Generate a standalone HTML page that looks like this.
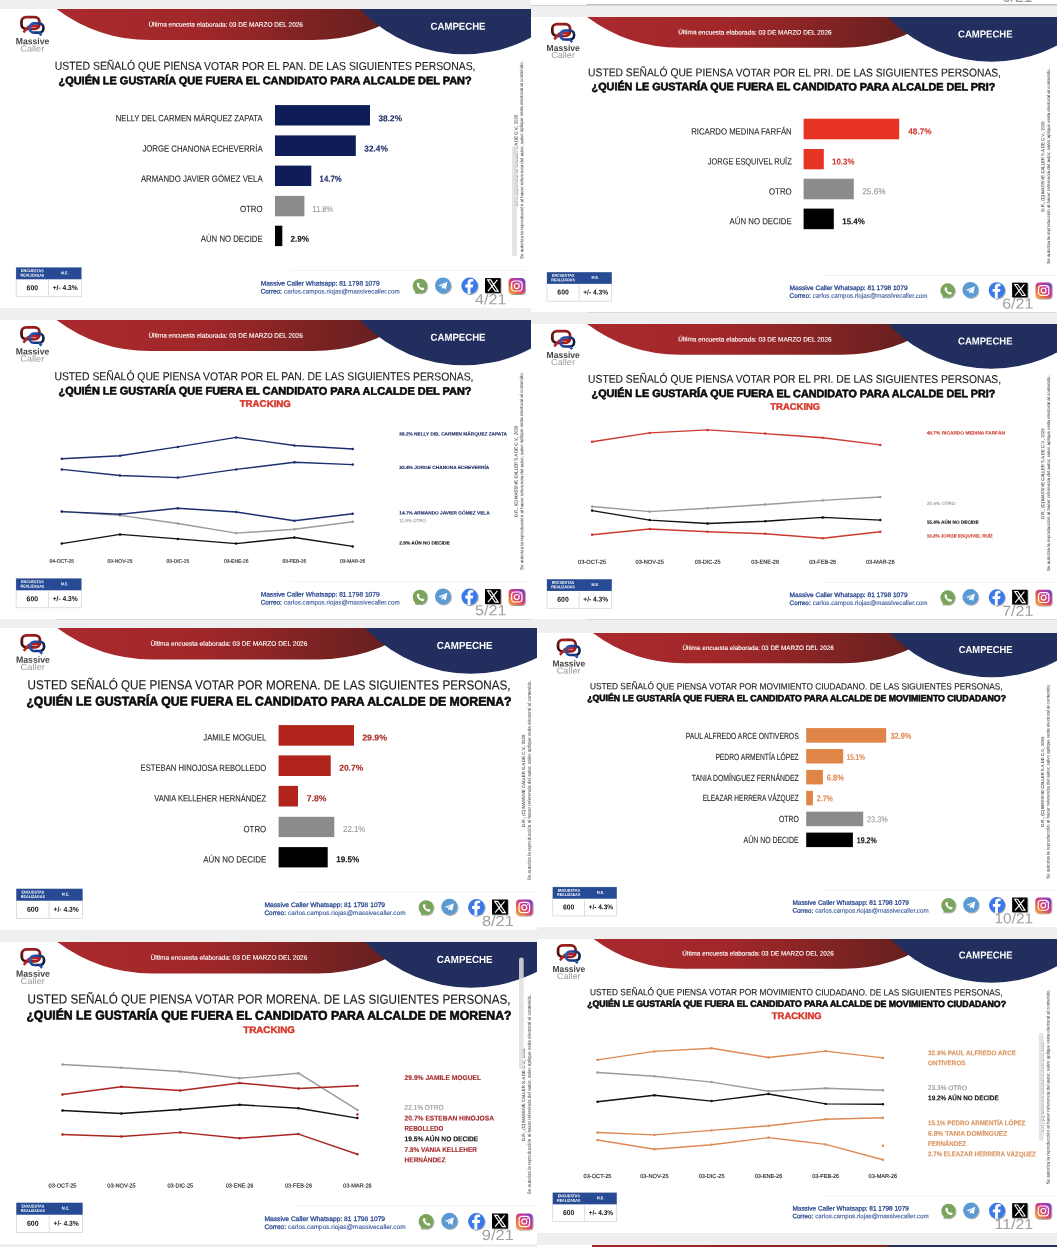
<!DOCTYPE html>
<html lang="es"><head><meta charset="utf-8"><title>Massive Caller - Campeche</title>
<style>
html,body{margin:0;padding:0;}
body{width:1057px;height:1247px;position:relative;overflow:hidden;background:#efefef;font-family:"Liberation Sans",sans-serif;}
svg.p{position:absolute;background:#fff;overflow:hidden;display:block;will-change:transform;}
svg text{font-family:"Liberation Sans",sans-serif;white-space:pre;}
.x{position:absolute;}
.t{position:absolute;white-space:nowrap;line-height:1;}
</style></head><body>
<svg width="0" height="0" style="position:absolute"><defs>
<linearGradient id="rg" x1="0" y1="0" x2="1" y2="0"><stop offset="0" stop-color="#aa2a2e"/><stop offset="0.4" stop-color="#a02729"/><stop offset="0.58" stop-color="#8f2526"/><stop offset="0.75" stop-color="#7a2222"/><stop offset="0.9" stop-color="#682020"/><stop offset="1" stop-color="#5f1e1e"/></linearGradient>
<linearGradient id="ig" x1="0" y1="1" x2="1" y2="0"><stop offset="0" stop-color="#f7b34a"/><stop offset="0.3" stop-color="#e8653c"/><stop offset="0.6" stop-color="#c8379a"/><stop offset="1" stop-color="#6a46c8"/></linearGradient>
<linearGradient id="lr" gradientUnits="userSpaceOnUse" x1="21" y1="21" x2="40" y2="8"><stop offset="0" stop-color="#141010"/><stop offset="0.22" stop-color="#5e1313"/><stop offset="0.55" stop-color="#a32121"/><stop offset="1" stop-color="#7d1818"/></linearGradient>
<linearGradient id="lb" gradientUnits="userSpaceOnUse" x1="29" y1="15" x2="45" y2="23"><stop offset="0" stop-color="#2a5cc0"/><stop offset="0.5" stop-color="#1d3a8a"/><stop offset="0.85" stop-color="#0f1836"/><stop offset="1" stop-color="#141414"/></linearGradient>
<filter id="sh" x="-30%" y="-30%" width="170%" height="170%"><feDropShadow dx="0.7" dy="0.9" stdDeviation="0.75" flood-color="#000" flood-opacity="0.42"/></filter>
</defs></svg>
<svg class="p" id="p1" style="left:0px;top:9.4px;" width="531.00" height="298.50" viewBox="0 0.000 531.000 298.500" preserveAspectRatio="none">
<path d="M56.5,0 A156.5,156.5 0 0 0 150,31.1 L313,31.1 A165,165 0 0 0 409.3,0 Z" fill="url(#rg)"/>
<circle cx="464" cy="-96.7" r="142" fill="#212e5e"/>
<g transform="translate(0,0.8)"><rect x="21.5" y="7.3" width="17.9" height="11.8" rx="4.6" fill="none" stroke="url(#lr)" stroke-width="2.8"/><path d="M23.4,22.6 L28.4,16.9 Q33,15.4 38.6,16.2" fill="none" stroke="#b52424" stroke-width="2.5" stroke-linejoin="round"/><rect x="29.7" y="13.6" width="13.7" height="9.2" rx="4.1" fill="none" stroke="url(#lb)" stroke-width="2.6"/><path d="M38.8,22.6 L41.5,25.6" fill="none" stroke="#1f4fb0" stroke-width="2.4"/></g>
<g transform="translate(420,277.0)" filter="url(#sh)"><circle r="7.3" fill="#7aa45b"/><path d="M-5.2,7.6 L-4.2,3.5 L-1,6 Z" fill="#7aa45b"/><path transform="scale(0.86)" d="M-3.1,-3.6 q1.2,-1 1.9,0.2 l0.7,1.5 q0.2,0.6 -0.6,1.2 q0.9,2 2.9,2.9 q0.7,-0.9 1.2,-0.6 l1.5,0.8 q1.1,0.7 0.1,1.8 q-1.6,1.4 -4.5,-0.4 q-2.4,-1.6 -3.6,-4.4 q-0.6,-1.9 0.4,-3 z" fill="#fff"/></g>
<g transform="translate(443,276.4)" filter="url(#sh)"><circle r="8" fill="#5a9bd4"/><path d="M-4.6,0.2 L4.4,-3.6 L2.8,4 L0.2,2.2 L-1.2,3.6 L-1.4,1.2 L2.6,-2.2 L-2.4,0.8 Z" fill="#fff"/></g>
<g transform="translate(469.6,276.8)" filter="url(#sh)"><circle r="8.2" fill="#3b79e8"/><path d="M0.9,8.2 V1.6 H3.2 L3.6,-1.2 H0.9 V-2.8 Q0.9,-4.2 2.4,-4.2 H3.7 V-6.6 Q2.7,-6.8 1.5,-6.8 Q-2,-6.8 -2,-3.2 V-1.2 H-4.3 V1.6 H-2 V8.2 Z" fill="#fff"/></g>
<g transform="translate(492.8,276.5)" filter="url(#sh)"><rect x="-7.8" y="-7.4" width="15.6" height="14.8" fill="#000"/><path d="M-5.2,-5.6 H-2.2 L5.4,5.6 H2.4 Z M4.6,-5.6 L-4.8,5.6" fill="none" stroke="#fff" stroke-width="1.1"/></g>
<g transform="translate(516.8,277.0)" filter="url(#sh)"><rect x="-8.2" y="-8" width="16.4" height="16" rx="3.8" fill="url(#ig)"/><rect x="-5.2" y="-5" width="10.4" height="10" rx="2.8" fill="none" stroke="#fff" stroke-width="1.2"/><circle r="2.5" fill="none" stroke="#fff" stroke-width="1.2"/><circle cx="3.2" cy="-3.1" r="0.7" fill="#fff"/></g>
<text x="148.40" y="17.60" font-size="6.40" fill="#fff" textLength="154.60" lengthAdjust="spacingAndGlyphs" stroke="#fff" stroke-width="0.12" transform="rotate(0.035 148.40 17.60)">Última encuesta elaborada: 03 DE MARZO DEL 2026</text>
<text x="430.50" y="20.81" font-size="10.20" fill="#fff" font-weight="700" textLength="55.00" lengthAdjust="spacingAndGlyphs" transform="rotate(0.035 430.50 20.81)">CAMPECHE</text>
<text x="32.50" y="35.20" font-size="9.00" fill="#444" font-weight="700" text-anchor="middle" textLength="33.50" lengthAdjust="spacingAndGlyphs" transform="rotate(0.035 32.50 35.20)">Massive</text>
<text x="32.30" y="42.43" font-size="8.80" fill="#9a9a9a" text-anchor="middle" textLength="24.00" lengthAdjust="spacingAndGlyphs" transform="rotate(0.035 32.30 42.43)">Caller</text>
<rect x="16.10" y="258.50" width="65.30" height="29.30" fill="#fff" stroke="#c9c9c9" stroke-width="0.6"/>
<rect x="16.10" y="258.50" width="65.30" height="11.80" fill="#264a94" />
<rect x="48.10" y="270.30" width="0.60" height="17.50" fill="#c9c9c9" />
<text x="32.40" y="263.14" font-size="3.90" fill="#fff" font-weight="700" text-anchor="middle" textLength="22.60" lengthAdjust="spacingAndGlyphs" transform="rotate(0.035 32.40 263.14)">ENCUESTAS</text>
<text x="32.40" y="267.64" font-size="3.90" fill="#fff" font-weight="700" text-anchor="middle" textLength="23.80" lengthAdjust="spacingAndGlyphs" transform="rotate(0.035 32.40 267.64)">REALIZADAS</text>
<text x="64.70" y="265.24" font-size="3.90" fill="#fff" font-weight="700" text-anchor="middle" textLength="7.40" lengthAdjust="spacingAndGlyphs" transform="rotate(0.035 64.70 265.24)">M.E.</text>
<text x="32.30" y="281.18" font-size="7.20" fill="#111" font-weight="700" text-anchor="middle" textLength="11.50" lengthAdjust="spacingAndGlyphs" transform="rotate(0.035 32.30 281.18)">600</text>
<text x="65.20" y="281.11" font-size="7.00" fill="#111" font-weight="700" text-anchor="middle" textLength="25.00" lengthAdjust="spacingAndGlyphs" transform="rotate(0.035 65.20 281.11)">+/- 4.3%</text>
<rect x="292.00" y="261.30" width="239.00" height="0.60" fill="#ececec" />
<text x="260.70" y="276.44" font-size="6.50" fill="#2c4a90" textLength="118.90" lengthAdjust="spacingAndGlyphs" stroke="#2c4a90" stroke-width="0.28" transform="rotate(0.035 260.70 276.44)">Massive Caller Whatsapp: 81 1798 1079</text>
<text x="260.70" y="284.44" font-size="6.50" fill="#2c4a90" textLength="21.20" lengthAdjust="spacingAndGlyphs" stroke="#2c4a90" stroke-width="0.28" transform="rotate(0.035 260.70 284.44)">Correo:</text>
<text x="284.00" y="284.44" font-size="6.50" fill="#33539a" textLength="115.70" lengthAdjust="spacingAndGlyphs" stroke="#33539a" stroke-width="0.1" transform="rotate(0.035 284.00 284.44)">carlos.campos.riojas@massivecaller.com</text>
<text x="506.50" y="295.32" font-size="14.60" fill="#a0a0a0" text-anchor="end" textLength="31.50" lengthAdjust="spacingAndGlyphs" transform="rotate(0.035 506.50 295.32)">4/21</text>
<text x="517.50" y="197.10" font-size="4.40" fill="#555" textLength="91.40" lengthAdjust="spacingAndGlyphs" stroke="#555" stroke-width="0.08" transform="rotate(-90.035 517.50 197.10)">D.R., (C) MASSIVE CALLER S.A DE C.V., 2026</text>
<text x="523.20" y="250.00" font-size="4.40" fill="#555" textLength="198.00" lengthAdjust="spacingAndGlyphs" stroke="#555" stroke-width="0.08" transform="rotate(-90.035 523.20 250.00)">Se autoriza la reproducción al hacer referencia del autor, salvo aplique veda electoral al contenido.</text>
<text x="54.80" y="60.81" font-size="11.50" fill="#1a1a1a" textLength="420.70" lengthAdjust="spacingAndGlyphs" stroke="#1a1a1a" stroke-width="0.12" transform="rotate(0.035 54.80 60.81)">USTED SEÑALÓ QUE PIENSA VOTAR POR EL PAN. DE LAS SIGUIENTES PERSONAS,</text>
<text x="58.50" y="75.13" font-size="11.00" fill="#0a0a0a" font-weight="700" textLength="413.20" lengthAdjust="spacingAndGlyphs" stroke="#0a0a0a" stroke-width="0.6" transform="rotate(0.035 58.50 75.13)">¿QUIÉN LE GUSTARÍA QUE FUERA EL CANDIDATO PARA ALCALDE DEL PAN?</text>
<rect x="275.00" y="96.10" width="95.00" height="20.40" fill="#0e1d57" />
<text x="262.60" y="112.30" font-size="9.00" fill="#262626" text-anchor="end" textLength="146.90" lengthAdjust="spacingAndGlyphs" stroke="#262626" stroke-width="0.1" transform="rotate(0.035 262.60 112.30)">NELLY DEL CARMEN MÁRQUEZ ZAPATA</text>
<text x="378.50" y="112.16" font-size="8.60" fill="#1c2a66" font-weight="700" textLength="23.50" lengthAdjust="spacingAndGlyphs" stroke="#1c2a66" stroke-width="0.1" transform="rotate(0.035 378.50 112.16)">38.2%</text>
<rect x="275.00" y="126.40" width="80.80" height="20.60" fill="#0e1d57" />
<text x="262.60" y="142.70" font-size="9.00" fill="#262626" text-anchor="end" textLength="120.20" lengthAdjust="spacingAndGlyphs" stroke="#262626" stroke-width="0.1" transform="rotate(0.035 262.60 142.70)">JORGE CHANONA ECHEVERRÍA</text>
<text x="364.30" y="142.56" font-size="8.60" fill="#1c2a66" font-weight="700" textLength="23.50" lengthAdjust="spacingAndGlyphs" stroke="#1c2a66" stroke-width="0.1" transform="rotate(0.035 364.30 142.56)">32.4%</text>
<rect x="275.00" y="156.60" width="36.30" height="20.40" fill="#0e1d57" />
<text x="262.60" y="172.80" font-size="9.00" fill="#262626" text-anchor="end" textLength="121.70" lengthAdjust="spacingAndGlyphs" stroke="#262626" stroke-width="0.1" transform="rotate(0.035 262.60 172.80)">ARMANDO JAVIER GÓMEZ VELA</text>
<text x="319.60" y="172.66" font-size="8.60" fill="#1c2a66" font-weight="700" textLength="22.00" lengthAdjust="spacingAndGlyphs" stroke="#1c2a66" stroke-width="0.1" transform="rotate(0.035 319.60 172.66)">14.7%</text>
<rect x="275.00" y="186.90" width="29.40" height="20.40" fill="#8b8b8b" />
<text x="262.60" y="203.10" font-size="9.00" fill="#262626" text-anchor="end" textLength="22.70" lengthAdjust="spacingAndGlyphs" stroke="#262626" stroke-width="0.1" transform="rotate(0.035 262.60 203.10)">OTRO</text>
<text x="312.60" y="202.96" font-size="8.60" fill="#9a9a9a" textLength="20.50" lengthAdjust="spacingAndGlyphs" stroke="#9a9a9a" stroke-width="0.12" transform="rotate(0.035 312.60 202.96)">11.8%</text>
<rect x="275.00" y="216.70" width="7.30" height="20.40" fill="#000" />
<text x="262.60" y="232.90" font-size="9.00" fill="#262626" text-anchor="end" textLength="61.80" lengthAdjust="spacingAndGlyphs" stroke="#262626" stroke-width="0.1" transform="rotate(0.035 262.60 232.90)">AÚN NO DECIDE</text>
<text x="290.60" y="232.76" font-size="8.60" fill="#111" font-weight="700" textLength="18.50" lengthAdjust="spacingAndGlyphs" stroke="#111" stroke-width="0.1" transform="rotate(0.035 290.60 232.76)">2.9%</text>
<rect x="512.00" y="136.50" width="5.00" height="110.70" rx="2.50" fill="rgba(224,224,224,0.86)"/>
</svg>
<svg class="p" id="p2" style="left:531px;top:16.9px;" width="526.00" height="295.00" viewBox="0 0.000 530.242 298.795" preserveAspectRatio="none">
<path d="M56.5,0 A156.5,156.5 0 0 0 150,31.1 L313,31.1 A165,165 0 0 0 409.3,0 Z" fill="url(#rg)"/>
<circle cx="464" cy="-96.7" r="142" fill="#212e5e"/>
<g transform="translate(0,0)"><rect x="21.5" y="7.3" width="17.9" height="11.8" rx="4.6" fill="none" stroke="url(#lr)" stroke-width="2.8"/><path d="M23.4,22.6 L28.4,16.9 Q33,15.4 38.6,16.2" fill="none" stroke="#b52424" stroke-width="2.5" stroke-linejoin="round"/><rect x="29.7" y="13.6" width="13.7" height="9.2" rx="4.1" fill="none" stroke="url(#lb)" stroke-width="2.6"/><path d="M38.8,22.6 L41.5,25.6" fill="none" stroke="#1f4fb0" stroke-width="2.4"/></g>
<g transform="translate(420,277.0)" filter="url(#sh)"><circle r="7.3" fill="#7aa45b"/><path d="M-5.2,7.6 L-4.2,3.5 L-1,6 Z" fill="#7aa45b"/><path transform="scale(0.86)" d="M-3.1,-3.6 q1.2,-1 1.9,0.2 l0.7,1.5 q0.2,0.6 -0.6,1.2 q0.9,2 2.9,2.9 q0.7,-0.9 1.2,-0.6 l1.5,0.8 q1.1,0.7 0.1,1.8 q-1.6,1.4 -4.5,-0.4 q-2.4,-1.6 -3.6,-4.4 q-0.6,-1.9 0.4,-3 z" fill="#fff"/></g>
<g transform="translate(443,276.4)" filter="url(#sh)"><circle r="8" fill="#5a9bd4"/><path d="M-4.6,0.2 L4.4,-3.6 L2.8,4 L0.2,2.2 L-1.2,3.6 L-1.4,1.2 L2.6,-2.2 L-2.4,0.8 Z" fill="#fff"/></g>
<g transform="translate(469.6,276.8)" filter="url(#sh)"><circle r="8.2" fill="#3b79e8"/><path d="M0.9,8.2 V1.6 H3.2 L3.6,-1.2 H0.9 V-2.8 Q0.9,-4.2 2.4,-4.2 H3.7 V-6.6 Q2.7,-6.8 1.5,-6.8 Q-2,-6.8 -2,-3.2 V-1.2 H-4.3 V1.6 H-2 V8.2 Z" fill="#fff"/></g>
<g transform="translate(492.8,276.5)" filter="url(#sh)"><rect x="-7.8" y="-7.4" width="15.6" height="14.8" fill="#000"/><path d="M-5.2,-5.6 H-2.2 L5.4,5.6 H2.4 Z M4.6,-5.6 L-4.8,5.6" fill="none" stroke="#fff" stroke-width="1.1"/></g>
<g transform="translate(516.8,277.0)" filter="url(#sh)"><rect x="-8.2" y="-8" width="16.4" height="16" rx="3.8" fill="url(#ig)"/><rect x="-5.2" y="-5" width="10.4" height="10" rx="2.8" fill="none" stroke="#fff" stroke-width="1.2"/><circle r="2.5" fill="none" stroke="#fff" stroke-width="1.2"/><circle cx="3.2" cy="-3.1" r="0.7" fill="#fff"/></g>
<text x="148.40" y="17.60" font-size="6.40" fill="#fff" textLength="154.60" lengthAdjust="spacingAndGlyphs" stroke="#fff" stroke-width="0.12" transform="rotate(0.035 148.40 17.60)">Última encuesta elaborada: 03 DE MARZO DEL 2026</text>
<text x="430.50" y="20.81" font-size="10.20" fill="#fff" font-weight="700" textLength="55.00" lengthAdjust="spacingAndGlyphs" transform="rotate(0.035 430.50 20.81)">CAMPECHE</text>
<text x="32.50" y="34.40" font-size="9.00" fill="#444" font-weight="700" text-anchor="middle" textLength="33.50" lengthAdjust="spacingAndGlyphs" transform="rotate(0.035 32.50 34.40)">Massive</text>
<text x="32.30" y="41.63" font-size="8.80" fill="#9a9a9a" text-anchor="middle" textLength="24.00" lengthAdjust="spacingAndGlyphs" transform="rotate(0.035 32.30 41.63)">Caller</text>
<rect x="16.10" y="258.50" width="65.30" height="29.30" fill="#fff" stroke="#c9c9c9" stroke-width="0.6"/>
<rect x="16.10" y="258.50" width="65.30" height="11.80" fill="#264a94" />
<rect x="48.10" y="270.30" width="0.60" height="17.50" fill="#c9c9c9" />
<text x="32.40" y="263.14" font-size="3.90" fill="#fff" font-weight="700" text-anchor="middle" textLength="22.60" lengthAdjust="spacingAndGlyphs" transform="rotate(0.035 32.40 263.14)">ENCUESTAS</text>
<text x="32.40" y="267.64" font-size="3.90" fill="#fff" font-weight="700" text-anchor="middle" textLength="23.80" lengthAdjust="spacingAndGlyphs" transform="rotate(0.035 32.40 267.64)">REALIZADAS</text>
<text x="64.70" y="265.24" font-size="3.90" fill="#fff" font-weight="700" text-anchor="middle" textLength="7.40" lengthAdjust="spacingAndGlyphs" transform="rotate(0.035 64.70 265.24)">M.E.</text>
<text x="32.30" y="281.18" font-size="7.20" fill="#111" font-weight="700" text-anchor="middle" textLength="11.50" lengthAdjust="spacingAndGlyphs" transform="rotate(0.035 32.30 281.18)">600</text>
<text x="65.20" y="281.11" font-size="7.00" fill="#111" font-weight="700" text-anchor="middle" textLength="25.00" lengthAdjust="spacingAndGlyphs" transform="rotate(0.035 65.20 281.11)">+/- 4.3%</text>
<rect x="292.00" y="261.30" width="239.00" height="0.60" fill="#ececec" />
<text x="260.70" y="276.44" font-size="6.50" fill="#2c4a90" textLength="118.90" lengthAdjust="spacingAndGlyphs" stroke="#2c4a90" stroke-width="0.28" transform="rotate(0.035 260.70 276.44)">Massive Caller Whatsapp: 81 1798 1079</text>
<text x="260.70" y="284.44" font-size="6.50" fill="#2c4a90" textLength="21.20" lengthAdjust="spacingAndGlyphs" stroke="#2c4a90" stroke-width="0.28" transform="rotate(0.035 260.70 284.44)">Correo:</text>
<text x="284.00" y="284.44" font-size="6.50" fill="#33539a" textLength="115.70" lengthAdjust="spacingAndGlyphs" stroke="#33539a" stroke-width="0.1" transform="rotate(0.035 284.00 284.44)">carlos.campos.riojas@massivecaller.com</text>
<text x="506.50" y="295.32" font-size="14.60" fill="#a0a0a0" text-anchor="end" textLength="31.50" lengthAdjust="spacingAndGlyphs" transform="rotate(0.035 506.50 295.32)">6/21</text>
<text x="517.50" y="197.10" font-size="4.40" fill="#555" textLength="91.40" lengthAdjust="spacingAndGlyphs" stroke="#555" stroke-width="0.08" transform="rotate(-90.035 517.50 197.10)">D.R., (C) MASSIVE CALLER S.A DE C.V., 2026</text>
<text x="523.20" y="250.00" font-size="4.40" fill="#555" textLength="198.00" lengthAdjust="spacingAndGlyphs" stroke="#555" stroke-width="0.08" transform="rotate(-90.035 523.20 250.00)">Se autoriza la reproducción al hacer referencia del autor, salvo aplique veda electoral al contenido.</text>
<text x="57.56" y="60.07" font-size="11.50" fill="#1a1a1a" textLength="416.23" lengthAdjust="spacingAndGlyphs" stroke="#1a1a1a" stroke-width="0.12" transform="rotate(0.035 57.56 60.07)">USTED SEÑALÓ QUE PIENSA VOTAR POR EL PRI. DE LAS SIGUIENTES PERSONAS,</text>
<text x="61.09" y="74.18" font-size="11.00" fill="#0a0a0a" font-weight="700" textLength="407.06" lengthAdjust="spacingAndGlyphs" stroke="#0a0a0a" stroke-width="0.6" transform="rotate(0.035 61.09 74.18)">¿QUIÉN LE GUSTARÍA QUE FUERA EL CANDIDATO PARA ALCALDE DEL PRI?</text>
<rect x="274.80" y="103.01" width="96.37" height="20.86" fill="#e63324" />
<text x="262.80" y="118.97" font-size="9.00" fill="#262626" text-anchor="end" textLength="101.31" lengthAdjust="spacingAndGlyphs" stroke="#262626" stroke-width="0.1" transform="rotate(0.035 262.80 118.97)">RICARDO MEDINA FARFÁN</text>
<text x="380.34" y="118.83" font-size="8.60" fill="#cf3a2e" font-weight="700" textLength="23.49" lengthAdjust="spacingAndGlyphs" stroke="#cf3a2e" stroke-width="0.1" transform="rotate(0.035 380.34 118.83)">48.7%</text>
<rect x="274.80" y="133.70" width="20.36" height="20.56" fill="#e63324" />
<text x="262.80" y="149.51" font-size="9.00" fill="#262626" text-anchor="end" textLength="84.58" lengthAdjust="spacingAndGlyphs" stroke="#262626" stroke-width="0.1" transform="rotate(0.035 262.80 149.51)">JORGE ESQUIVEL RUÍZ</text>
<text x="303.43" y="149.37" font-size="8.60" fill="#cf3a2e" font-weight="700" textLength="22.68" lengthAdjust="spacingAndGlyphs" stroke="#cf3a2e" stroke-width="0.1" transform="rotate(0.035 303.43 149.37)">10.3%</text>
<rect x="274.80" y="163.78" width="50.60" height="20.86" fill="#8b8b8b" />
<text x="262.80" y="179.74" font-size="9.00" fill="#262626" text-anchor="end" textLength="22.88" lengthAdjust="spacingAndGlyphs" stroke="#262626" stroke-width="0.1" transform="rotate(0.035 262.80 179.74)">OTRO</text>
<text x="333.87" y="179.60" font-size="8.60" fill="#9a9a9a" textLength="23.69" lengthAdjust="spacingAndGlyphs" stroke="#9a9a9a" stroke-width="0.12" transform="rotate(0.035 333.87 179.60)">25.6%</text>
<rect x="274.80" y="194.06" width="30.44" height="20.86" fill="#000" />
<text x="262.80" y="210.02" font-size="9.00" fill="#262626" text-anchor="end" textLength="62.60" lengthAdjust="spacingAndGlyphs" stroke="#262626" stroke-width="0.1" transform="rotate(0.035 262.80 210.02)">AÚN NO DECIDE</text>
<text x="313.81" y="209.89" font-size="8.60" fill="#111" font-weight="700" textLength="22.68" lengthAdjust="spacingAndGlyphs" stroke="#111" stroke-width="0.1" transform="rotate(0.035 313.81 209.89)">15.4%</text>
</svg>
<svg class="p" id="p3" style="left:0px;top:320.0px;" width="531.00" height="298.50" viewBox="0 0.000 531.000 298.500" preserveAspectRatio="none">
<path d="M56.5,0 A156.5,156.5 0 0 0 150,31.1 L313,31.1 A165,165 0 0 0 409.3,0 Z" fill="url(#rg)"/>
<circle cx="464" cy="-96.7" r="142" fill="#212e5e"/>
<g transform="translate(0,0)"><rect x="21.5" y="7.3" width="17.9" height="11.8" rx="4.6" fill="none" stroke="url(#lr)" stroke-width="2.8"/><path d="M23.4,22.6 L28.4,16.9 Q33,15.4 38.6,16.2" fill="none" stroke="#b52424" stroke-width="2.5" stroke-linejoin="round"/><rect x="29.7" y="13.6" width="13.7" height="9.2" rx="4.1" fill="none" stroke="url(#lb)" stroke-width="2.6"/><path d="M38.8,22.6 L41.5,25.6" fill="none" stroke="#1f4fb0" stroke-width="2.4"/></g>
<g transform="translate(420,277.0)" filter="url(#sh)"><circle r="7.3" fill="#7aa45b"/><path d="M-5.2,7.6 L-4.2,3.5 L-1,6 Z" fill="#7aa45b"/><path transform="scale(0.86)" d="M-3.1,-3.6 q1.2,-1 1.9,0.2 l0.7,1.5 q0.2,0.6 -0.6,1.2 q0.9,2 2.9,2.9 q0.7,-0.9 1.2,-0.6 l1.5,0.8 q1.1,0.7 0.1,1.8 q-1.6,1.4 -4.5,-0.4 q-2.4,-1.6 -3.6,-4.4 q-0.6,-1.9 0.4,-3 z" fill="#fff"/></g>
<g transform="translate(443,276.4)" filter="url(#sh)"><circle r="8" fill="#5a9bd4"/><path d="M-4.6,0.2 L4.4,-3.6 L2.8,4 L0.2,2.2 L-1.2,3.6 L-1.4,1.2 L2.6,-2.2 L-2.4,0.8 Z" fill="#fff"/></g>
<g transform="translate(469.6,276.8)" filter="url(#sh)"><circle r="8.2" fill="#3b79e8"/><path d="M0.9,8.2 V1.6 H3.2 L3.6,-1.2 H0.9 V-2.8 Q0.9,-4.2 2.4,-4.2 H3.7 V-6.6 Q2.7,-6.8 1.5,-6.8 Q-2,-6.8 -2,-3.2 V-1.2 H-4.3 V1.6 H-2 V8.2 Z" fill="#fff"/></g>
<g transform="translate(492.8,276.5)" filter="url(#sh)"><rect x="-7.8" y="-7.4" width="15.6" height="14.8" fill="#000"/><path d="M-5.2,-5.6 H-2.2 L5.4,5.6 H2.4 Z M4.6,-5.6 L-4.8,5.6" fill="none" stroke="#fff" stroke-width="1.1"/></g>
<g transform="translate(516.8,277.0)" filter="url(#sh)"><rect x="-8.2" y="-8" width="16.4" height="16" rx="3.8" fill="url(#ig)"/><rect x="-5.2" y="-5" width="10.4" height="10" rx="2.8" fill="none" stroke="#fff" stroke-width="1.2"/><circle r="2.5" fill="none" stroke="#fff" stroke-width="1.2"/><circle cx="3.2" cy="-3.1" r="0.7" fill="#fff"/></g>
<polyline points="61.80,191.60 120.00,195.40 177.90,203.50 236.20,213.10 294.40,209.30 352.70,201.80" fill="none" stroke="#9a9a9a" stroke-width="1.45" stroke-linejoin="round" stroke-linecap="round"/>
<circle cx="61.80" cy="191.60" r="1.25" fill="#9a9a9a"/>
<circle cx="120.00" cy="195.40" r="1.25" fill="#9a9a9a"/>
<circle cx="177.90" cy="203.50" r="1.25" fill="#9a9a9a"/>
<circle cx="236.20" cy="213.10" r="1.25" fill="#9a9a9a"/>
<circle cx="294.40" cy="209.30" r="1.25" fill="#9a9a9a"/>
<circle cx="352.70" cy="201.80" r="1.25" fill="#9a9a9a"/>
<polyline points="61.80,138.80 120.00,135.80 177.90,126.90 236.20,117.40 294.40,125.50 352.70,129.00" fill="none" stroke="#1a2f6e" stroke-width="1.45" stroke-linejoin="round" stroke-linecap="round"/>
<circle cx="61.80" cy="138.80" r="1.25" fill="#1a2f6e"/>
<circle cx="120.00" cy="135.80" r="1.25" fill="#1a2f6e"/>
<circle cx="177.90" cy="126.90" r="1.25" fill="#1a2f6e"/>
<circle cx="236.20" cy="117.40" r="1.25" fill="#1a2f6e"/>
<circle cx="294.40" cy="125.50" r="1.25" fill="#1a2f6e"/>
<circle cx="352.70" cy="129.00" r="1.25" fill="#1a2f6e"/>
<polyline points="61.80,149.40 120.00,155.50 177.90,157.60 236.20,149.40 294.40,142.20 352.70,144.60" fill="none" stroke="#1a2f6e" stroke-width="1.45" stroke-linejoin="round" stroke-linecap="round"/>
<circle cx="61.80" cy="149.40" r="1.25" fill="#1a2f6e"/>
<circle cx="120.00" cy="155.50" r="1.25" fill="#1a2f6e"/>
<circle cx="177.90" cy="157.60" r="1.25" fill="#1a2f6e"/>
<circle cx="236.20" cy="149.40" r="1.25" fill="#1a2f6e"/>
<circle cx="294.40" cy="142.20" r="1.25" fill="#1a2f6e"/>
<circle cx="352.70" cy="144.60" r="1.25" fill="#1a2f6e"/>
<polyline points="61.80,191.60 120.00,194.30 177.90,188.20 236.20,192.00 294.40,200.80 352.70,193.70" fill="none" stroke="#1a2f6e" stroke-width="1.45" stroke-linejoin="round" stroke-linecap="round"/>
<circle cx="61.80" cy="191.60" r="1.25" fill="#1a2f6e"/>
<circle cx="120.00" cy="194.30" r="1.25" fill="#1a2f6e"/>
<circle cx="177.90" cy="188.20" r="1.25" fill="#1a2f6e"/>
<circle cx="236.20" cy="192.00" r="1.25" fill="#1a2f6e"/>
<circle cx="294.40" cy="200.80" r="1.25" fill="#1a2f6e"/>
<circle cx="352.70" cy="193.70" r="1.25" fill="#1a2f6e"/>
<polyline points="61.80,223.60 120.00,214.40 177.90,218.90 236.20,223.60 294.40,217.50 352.70,226.40" fill="none" stroke="#111" stroke-width="1.45" stroke-linejoin="round" stroke-linecap="round"/>
<circle cx="61.80" cy="223.60" r="1.25" fill="#111"/>
<circle cx="120.00" cy="214.40" r="1.25" fill="#111"/>
<circle cx="177.90" cy="218.90" r="1.25" fill="#111"/>
<circle cx="236.20" cy="223.60" r="1.25" fill="#111"/>
<circle cx="294.40" cy="217.50" r="1.25" fill="#111"/>
<circle cx="352.70" cy="226.40" r="1.25" fill="#111"/>
<text x="148.40" y="17.60" font-size="6.40" fill="#fff" textLength="154.60" lengthAdjust="spacingAndGlyphs" stroke="#fff" stroke-width="0.12" transform="rotate(0.035 148.40 17.60)">Última encuesta elaborada: 03 DE MARZO DEL 2026</text>
<text x="430.50" y="20.81" font-size="10.20" fill="#fff" font-weight="700" textLength="55.00" lengthAdjust="spacingAndGlyphs" transform="rotate(0.035 430.50 20.81)">CAMPECHE</text>
<text x="32.50" y="34.40" font-size="9.00" fill="#444" font-weight="700" text-anchor="middle" textLength="33.50" lengthAdjust="spacingAndGlyphs" transform="rotate(0.035 32.50 34.40)">Massive</text>
<text x="32.30" y="41.63" font-size="8.80" fill="#9a9a9a" text-anchor="middle" textLength="24.00" lengthAdjust="spacingAndGlyphs" transform="rotate(0.035 32.30 41.63)">Caller</text>
<rect x="16.10" y="258.50" width="65.30" height="29.30" fill="#fff" stroke="#c9c9c9" stroke-width="0.6"/>
<rect x="16.10" y="258.50" width="65.30" height="11.80" fill="#264a94" />
<rect x="48.10" y="270.30" width="0.60" height="17.50" fill="#c9c9c9" />
<text x="32.40" y="263.14" font-size="3.90" fill="#fff" font-weight="700" text-anchor="middle" textLength="22.60" lengthAdjust="spacingAndGlyphs" transform="rotate(0.035 32.40 263.14)">ENCUESTAS</text>
<text x="32.40" y="267.64" font-size="3.90" fill="#fff" font-weight="700" text-anchor="middle" textLength="23.80" lengthAdjust="spacingAndGlyphs" transform="rotate(0.035 32.40 267.64)">REALIZADAS</text>
<text x="64.70" y="265.24" font-size="3.90" fill="#fff" font-weight="700" text-anchor="middle" textLength="7.40" lengthAdjust="spacingAndGlyphs" transform="rotate(0.035 64.70 265.24)">M.E.</text>
<text x="32.30" y="281.18" font-size="7.20" fill="#111" font-weight="700" text-anchor="middle" textLength="11.50" lengthAdjust="spacingAndGlyphs" transform="rotate(0.035 32.30 281.18)">600</text>
<text x="65.20" y="281.11" font-size="7.00" fill="#111" font-weight="700" text-anchor="middle" textLength="25.00" lengthAdjust="spacingAndGlyphs" transform="rotate(0.035 65.20 281.11)">+/- 4.3%</text>
<rect x="292.00" y="261.30" width="239.00" height="0.60" fill="#ececec" />
<text x="260.70" y="276.44" font-size="6.50" fill="#2c4a90" textLength="118.90" lengthAdjust="spacingAndGlyphs" stroke="#2c4a90" stroke-width="0.28" transform="rotate(0.035 260.70 276.44)">Massive Caller Whatsapp: 81 1798 1079</text>
<text x="260.70" y="284.44" font-size="6.50" fill="#2c4a90" textLength="21.20" lengthAdjust="spacingAndGlyphs" stroke="#2c4a90" stroke-width="0.28" transform="rotate(0.035 260.70 284.44)">Correo:</text>
<text x="284.00" y="284.44" font-size="6.50" fill="#33539a" textLength="115.70" lengthAdjust="spacingAndGlyphs" stroke="#33539a" stroke-width="0.1" transform="rotate(0.035 284.00 284.44)">carlos.campos.riojas@massivecaller.com</text>
<text x="506.50" y="295.32" font-size="14.60" fill="#a0a0a0" text-anchor="end" textLength="31.50" lengthAdjust="spacingAndGlyphs" transform="rotate(0.035 506.50 295.32)">5/21</text>
<text x="517.50" y="197.10" font-size="4.40" fill="#555" textLength="91.40" lengthAdjust="spacingAndGlyphs" stroke="#555" stroke-width="0.08" transform="rotate(-90.035 517.50 197.10)">D.R., (C) MASSIVE CALLER S.A DE C.V., 2026</text>
<text x="523.20" y="250.00" font-size="4.40" fill="#555" textLength="198.00" lengthAdjust="spacingAndGlyphs" stroke="#555" stroke-width="0.08" transform="rotate(-90.035 523.20 250.00)">Se autoriza la reproducción al hacer referencia del autor, salvo aplique veda electoral al contenido.</text>
<text x="54.40" y="60.16" font-size="11.50" fill="#1a1a1a" textLength="419.10" lengthAdjust="spacingAndGlyphs" stroke="#1a1a1a" stroke-width="0.12" transform="rotate(0.035 54.40 60.16)">USTED SEÑALÓ QUE PIENSA VOTAR POR EL PAN. DE LAS SIGUIENTES PERSONAS,</text>
<text x="58.50" y="74.48" font-size="11.00" fill="#0a0a0a" font-weight="700" textLength="413.00" lengthAdjust="spacingAndGlyphs" stroke="#0a0a0a" stroke-width="0.6" transform="rotate(0.035 58.50 74.48)">¿QUIÉN LE GUSTARÍA QUE FUERA EL CANDIDATO PARA ALCALDE DEL PAN?</text>
<text x="239.70" y="86.87" font-size="9.50" fill="#d8372b" font-weight="700" textLength="51.20" lengthAdjust="spacingAndGlyphs" stroke="#d8372b" stroke-width="0.42" transform="rotate(0.035 239.70 86.87)">TRACKING</text>
<text x="61.80" y="242.66" font-size="5.12" fill="#2b2b2b" text-anchor="middle" textLength="24.70" lengthAdjust="spacingAndGlyphs" stroke="#2b2b2b" stroke-width="0.15" transform="rotate(0.035 61.80 242.66)">04-OCT-25</text>
<text x="120.00" y="242.66" font-size="5.12" fill="#2b2b2b" text-anchor="middle" textLength="24.98" lengthAdjust="spacingAndGlyphs" stroke="#2b2b2b" stroke-width="0.15" transform="rotate(0.035 120.00 242.66)">03-NOV-25</text>
<text x="177.90" y="242.66" font-size="5.12" fill="#2b2b2b" text-anchor="middle" textLength="22.78" lengthAdjust="spacingAndGlyphs" stroke="#2b2b2b" stroke-width="0.15" transform="rotate(0.035 177.90 242.66)">03-DIC-25</text>
<text x="236.20" y="242.66" font-size="5.12" fill="#2b2b2b" text-anchor="middle" textLength="24.43" lengthAdjust="spacingAndGlyphs" stroke="#2b2b2b" stroke-width="0.15" transform="rotate(0.035 236.20 242.66)">03-ENE-26</text>
<text x="294.40" y="242.66" font-size="5.12" fill="#2b2b2b" text-anchor="middle" textLength="23.88" lengthAdjust="spacingAndGlyphs" stroke="#2b2b2b" stroke-width="0.15" transform="rotate(0.035 294.40 242.66)">03-FEB-26</text>
<text x="352.70" y="242.66" font-size="5.12" fill="#2b2b2b" text-anchor="middle" textLength="25.25" lengthAdjust="spacingAndGlyphs" stroke="#2b2b2b" stroke-width="0.15" transform="rotate(0.035 352.70 242.66)">03-MAR-26</text>
<text x="399.30" y="115.52" font-size="4.70" fill="#1c2a66" font-weight="700" textLength="107.60" lengthAdjust="spacingAndGlyphs" stroke="#1c2a66" stroke-width="0.12" transform="rotate(0.035 399.30 115.52)">38.2% NELLY DEL CARMEN MÁRQUEZ ZAPATA</text>
<text x="399.30" y="149.02" font-size="4.70" fill="#1c2a66" font-weight="700" textLength="90.00" lengthAdjust="spacingAndGlyphs" stroke="#1c2a66" stroke-width="0.12" transform="rotate(0.035 399.30 149.02)">32.4% JORGE CHANONA ECHEVERRÍA</text>
<text x="399.30" y="194.52" font-size="4.70" fill="#1c2a66" font-weight="700" textLength="90.40" lengthAdjust="spacingAndGlyphs" stroke="#1c2a66" stroke-width="0.12" transform="rotate(0.035 399.30 194.52)">14.7% ARMANDO JAVIER GÓMEZ VELA</text>
<text x="399.30" y="202.22" font-size="4.70" fill="#9a9a9a" textLength="26.70" lengthAdjust="spacingAndGlyphs" stroke="#9a9a9a" stroke-width="0.1" transform="rotate(0.035 399.30 202.22)">11.8% OTRO</text>
<text x="399.30" y="224.52" font-size="4.70" fill="#111" font-weight="700" textLength="50.40" lengthAdjust="spacingAndGlyphs" stroke="#111" stroke-width="0.12" transform="rotate(0.035 399.30 224.52)">2.9% AÚN NO DECIDE</text>
</svg>
<svg class="p" id="p4" style="left:531px;top:324.0px;" width="526.00" height="295.00" viewBox="0 0.000 530.242 298.704" preserveAspectRatio="none">
<path d="M56.5,0 A156.5,156.5 0 0 0 150,31.1 L313,31.1 A165,165 0 0 0 409.3,0 Z" fill="url(#rg)"/>
<circle cx="464" cy="-96.7" r="142" fill="#212e5e"/>
<g transform="translate(0,0)"><rect x="21.5" y="7.3" width="17.9" height="11.8" rx="4.6" fill="none" stroke="url(#lr)" stroke-width="2.8"/><path d="M23.4,22.6 L28.4,16.9 Q33,15.4 38.6,16.2" fill="none" stroke="#b52424" stroke-width="2.5" stroke-linejoin="round"/><rect x="29.7" y="13.6" width="13.7" height="9.2" rx="4.1" fill="none" stroke="url(#lb)" stroke-width="2.6"/><path d="M38.8,22.6 L41.5,25.6" fill="none" stroke="#1f4fb0" stroke-width="2.4"/></g>
<g transform="translate(420,277.0)" filter="url(#sh)"><circle r="7.3" fill="#7aa45b"/><path d="M-5.2,7.6 L-4.2,3.5 L-1,6 Z" fill="#7aa45b"/><path transform="scale(0.86)" d="M-3.1,-3.6 q1.2,-1 1.9,0.2 l0.7,1.5 q0.2,0.6 -0.6,1.2 q0.9,2 2.9,2.9 q0.7,-0.9 1.2,-0.6 l1.5,0.8 q1.1,0.7 0.1,1.8 q-1.6,1.4 -4.5,-0.4 q-2.4,-1.6 -3.6,-4.4 q-0.6,-1.9 0.4,-3 z" fill="#fff"/></g>
<g transform="translate(443,276.4)" filter="url(#sh)"><circle r="8" fill="#5a9bd4"/><path d="M-4.6,0.2 L4.4,-3.6 L2.8,4 L0.2,2.2 L-1.2,3.6 L-1.4,1.2 L2.6,-2.2 L-2.4,0.8 Z" fill="#fff"/></g>
<g transform="translate(469.6,276.8)" filter="url(#sh)"><circle r="8.2" fill="#3b79e8"/><path d="M0.9,8.2 V1.6 H3.2 L3.6,-1.2 H0.9 V-2.8 Q0.9,-4.2 2.4,-4.2 H3.7 V-6.6 Q2.7,-6.8 1.5,-6.8 Q-2,-6.8 -2,-3.2 V-1.2 H-4.3 V1.6 H-2 V8.2 Z" fill="#fff"/></g>
<g transform="translate(492.8,276.5)" filter="url(#sh)"><rect x="-7.8" y="-7.4" width="15.6" height="14.8" fill="#000"/><path d="M-5.2,-5.6 H-2.2 L5.4,5.6 H2.4 Z M4.6,-5.6 L-4.8,5.6" fill="none" stroke="#fff" stroke-width="1.1"/></g>
<g transform="translate(516.8,277.0)" filter="url(#sh)"><rect x="-8.2" y="-8" width="16.4" height="16" rx="3.8" fill="url(#ig)"/><rect x="-5.2" y="-5" width="10.4" height="10" rx="2.8" fill="none" stroke="#fff" stroke-width="1.2"/><circle r="2.5" fill="none" stroke="#fff" stroke-width="1.2"/><circle cx="3.2" cy="-3.1" r="0.7" fill="#fff"/></g>
<polyline points="61.59,119.28 119.66,110.27 178.02,107.23 236.09,110.98 294.05,115.13 352.12,122.42" fill="none" stroke="#cc3a30" stroke-width="1.45" stroke-linejoin="round" stroke-linecap="round"/>
<circle cx="61.59" cy="119.28" r="1.25" fill="#cc3a30"/>
<circle cx="119.66" cy="110.27" r="1.25" fill="#cc3a30"/>
<circle cx="178.02" cy="107.23" r="1.25" fill="#cc3a30"/>
<circle cx="236.09" cy="110.98" r="1.25" fill="#cc3a30"/>
<circle cx="294.05" cy="115.13" r="1.25" fill="#cc3a30"/>
<circle cx="352.12" cy="122.42" r="1.25" fill="#cc3a30"/>
<polyline points="61.59,184.79 119.66,189.96 178.02,186.51 236.09,182.77 294.05,178.61 352.12,175.17" fill="none" stroke="#9a9a9a" stroke-width="1.45" stroke-linejoin="round" stroke-linecap="round"/>
<circle cx="61.59" cy="184.79" r="1.25" fill="#9a9a9a"/>
<circle cx="119.66" cy="189.96" r="1.25" fill="#9a9a9a"/>
<circle cx="178.02" cy="186.51" r="1.25" fill="#9a9a9a"/>
<circle cx="236.09" cy="182.77" r="1.25" fill="#9a9a9a"/>
<circle cx="294.05" cy="178.61" r="1.25" fill="#9a9a9a"/>
<circle cx="352.12" cy="175.17" r="1.25" fill="#9a9a9a"/>
<polyline points="61.59,188.94 119.66,198.56 178.02,202.00 236.09,199.68 294.05,195.83 352.12,198.56" fill="none" stroke="#111" stroke-width="1.45" stroke-linejoin="round" stroke-linecap="round"/>
<circle cx="61.59" cy="188.94" r="1.25" fill="#111"/>
<circle cx="119.66" cy="198.56" r="1.25" fill="#111"/>
<circle cx="178.02" cy="202.00" r="1.25" fill="#111"/>
<circle cx="236.09" cy="199.68" r="1.25" fill="#111"/>
<circle cx="294.05" cy="195.83" r="1.25" fill="#111"/>
<circle cx="352.12" cy="198.56" r="1.25" fill="#111"/>
<polyline points="61.59,213.45 119.66,207.57 178.02,210.31 236.09,212.43 294.05,216.89 352.12,210.31" fill="none" stroke="#cc3a30" stroke-width="1.45" stroke-linejoin="round" stroke-linecap="round"/>
<circle cx="61.59" cy="213.45" r="1.25" fill="#cc3a30"/>
<circle cx="119.66" cy="207.57" r="1.25" fill="#cc3a30"/>
<circle cx="178.02" cy="210.31" r="1.25" fill="#cc3a30"/>
<circle cx="236.09" cy="212.43" r="1.25" fill="#cc3a30"/>
<circle cx="294.05" cy="216.89" r="1.25" fill="#cc3a30"/>
<circle cx="352.12" cy="210.31" r="1.25" fill="#cc3a30"/>
<text x="148.40" y="17.60" font-size="6.40" fill="#fff" textLength="154.60" lengthAdjust="spacingAndGlyphs" stroke="#fff" stroke-width="0.12" transform="rotate(0.035 148.40 17.60)">Última encuesta elaborada: 03 DE MARZO DEL 2026</text>
<text x="430.50" y="20.81" font-size="10.20" fill="#fff" font-weight="700" textLength="55.00" lengthAdjust="spacingAndGlyphs" transform="rotate(0.035 430.50 20.81)">CAMPECHE</text>
<text x="32.50" y="34.40" font-size="9.00" fill="#444" font-weight="700" text-anchor="middle" textLength="33.50" lengthAdjust="spacingAndGlyphs" transform="rotate(0.035 32.50 34.40)">Massive</text>
<text x="32.30" y="41.63" font-size="8.80" fill="#9a9a9a" text-anchor="middle" textLength="24.00" lengthAdjust="spacingAndGlyphs" transform="rotate(0.035 32.30 41.63)">Caller</text>
<rect x="16.10" y="258.50" width="65.30" height="29.30" fill="#fff" stroke="#c9c9c9" stroke-width="0.6"/>
<rect x="16.10" y="258.50" width="65.30" height="11.80" fill="#264a94" />
<rect x="48.10" y="270.30" width="0.60" height="17.50" fill="#c9c9c9" />
<text x="32.40" y="263.14" font-size="3.90" fill="#fff" font-weight="700" text-anchor="middle" textLength="22.60" lengthAdjust="spacingAndGlyphs" transform="rotate(0.035 32.40 263.14)">ENCUESTAS</text>
<text x="32.40" y="267.64" font-size="3.90" fill="#fff" font-weight="700" text-anchor="middle" textLength="23.80" lengthAdjust="spacingAndGlyphs" transform="rotate(0.035 32.40 267.64)">REALIZADAS</text>
<text x="64.70" y="265.24" font-size="3.90" fill="#fff" font-weight="700" text-anchor="middle" textLength="7.40" lengthAdjust="spacingAndGlyphs" transform="rotate(0.035 64.70 265.24)">M.E.</text>
<text x="32.30" y="281.18" font-size="7.20" fill="#111" font-weight="700" text-anchor="middle" textLength="11.50" lengthAdjust="spacingAndGlyphs" transform="rotate(0.035 32.30 281.18)">600</text>
<text x="65.20" y="281.11" font-size="7.00" fill="#111" font-weight="700" text-anchor="middle" textLength="25.00" lengthAdjust="spacingAndGlyphs" transform="rotate(0.035 65.20 281.11)">+/- 4.3%</text>
<rect x="292.00" y="261.30" width="239.00" height="0.60" fill="#ececec" />
<text x="260.70" y="276.44" font-size="6.50" fill="#2c4a90" textLength="118.90" lengthAdjust="spacingAndGlyphs" stroke="#2c4a90" stroke-width="0.28" transform="rotate(0.035 260.70 276.44)">Massive Caller Whatsapp: 81 1798 1079</text>
<text x="260.70" y="284.44" font-size="6.50" fill="#2c4a90" textLength="21.20" lengthAdjust="spacingAndGlyphs" stroke="#2c4a90" stroke-width="0.28" transform="rotate(0.035 260.70 284.44)">Correo:</text>
<text x="284.00" y="284.44" font-size="6.50" fill="#33539a" textLength="115.70" lengthAdjust="spacingAndGlyphs" stroke="#33539a" stroke-width="0.1" transform="rotate(0.035 284.00 284.44)">carlos.campos.riojas@massivecaller.com</text>
<text x="506.50" y="295.32" font-size="14.60" fill="#a0a0a0" text-anchor="end" textLength="31.50" lengthAdjust="spacingAndGlyphs" transform="rotate(0.035 506.50 295.32)">7/21</text>
<text x="517.50" y="197.10" font-size="4.40" fill="#555" textLength="91.40" lengthAdjust="spacingAndGlyphs" stroke="#555" stroke-width="0.08" transform="rotate(-90.035 517.50 197.10)">D.R., (C) MASSIVE CALLER S.A DE C.V., 2026</text>
<text x="523.20" y="250.00" font-size="4.40" fill="#555" textLength="198.00" lengthAdjust="spacingAndGlyphs" stroke="#555" stroke-width="0.08" transform="rotate(-90.035 523.20 250.00)">Se autoriza la reproducción al hacer referencia del autor, salvo aplique veda electoral al contenido.</text>
<text x="57.56" y="59.44" font-size="11.50" fill="#1a1a1a" textLength="416.23" lengthAdjust="spacingAndGlyphs" stroke="#1a1a1a" stroke-width="0.12" transform="rotate(0.035 57.56 59.44)">USTED SEÑALÓ QUE PIENSA VOTAR POR EL PRI. DE LAS SIGUIENTES PERSONAS,</text>
<text x="61.09" y="73.95" font-size="11.00" fill="#0a0a0a" font-weight="700" textLength="407.06" lengthAdjust="spacingAndGlyphs" stroke="#0a0a0a" stroke-width="0.6" transform="rotate(0.035 61.09 73.95)">¿QUIÉN LE GUSTARÍA QUE FUERA EL CANDIDATO PARA ALCALDE DEL PRI?</text>
<text x="241.23" y="86.80" font-size="9.50" fill="#d8372b" font-weight="700" textLength="50.30" lengthAdjust="spacingAndGlyphs" stroke="#d8372b" stroke-width="0.42" transform="rotate(0.035 241.23 86.80)">TRACKING</text>
<text x="61.59" y="242.70" font-size="5.85" fill="#2b2b2b" text-anchor="middle" textLength="28.23" lengthAdjust="spacingAndGlyphs" stroke="#2b2b2b" stroke-width="0.15" transform="rotate(0.035 61.59 242.70)">03-OCT-25</text>
<text x="119.66" y="242.70" font-size="5.85" fill="#2b2b2b" text-anchor="middle" textLength="28.55" lengthAdjust="spacingAndGlyphs" stroke="#2b2b2b" stroke-width="0.15" transform="rotate(0.035 119.66 242.70)">03-NOV-25</text>
<text x="178.02" y="242.70" font-size="5.85" fill="#2b2b2b" text-anchor="middle" textLength="26.04" lengthAdjust="spacingAndGlyphs" stroke="#2b2b2b" stroke-width="0.15" transform="rotate(0.035 178.02 242.70)">03-DIC-25</text>
<text x="236.09" y="242.70" font-size="5.85" fill="#2b2b2b" text-anchor="middle" textLength="27.92" lengthAdjust="spacingAndGlyphs" stroke="#2b2b2b" stroke-width="0.15" transform="rotate(0.035 236.09 242.70)">03-ENE-26</text>
<text x="294.05" y="242.70" font-size="5.85" fill="#2b2b2b" text-anchor="middle" textLength="27.29" lengthAdjust="spacingAndGlyphs" stroke="#2b2b2b" stroke-width="0.15" transform="rotate(0.035 294.05 242.70)">03-FEB-26</text>
<text x="352.12" y="242.70" font-size="5.85" fill="#2b2b2b" text-anchor="middle" textLength="28.86" lengthAdjust="spacingAndGlyphs" stroke="#2b2b2b" stroke-width="0.15" transform="rotate(0.035 352.12 242.70)">03-MAR-26</text>
<text x="398.89" y="111.78" font-size="4.70" fill="#cf3a2e" font-weight="700" textLength="78.93" lengthAdjust="spacingAndGlyphs" stroke="#cf3a2e" stroke-width="0.12" transform="rotate(0.035 398.89 111.78)">48.7% RICARDO MEDINA FARFÁN</text>
<text x="398.89" y="183.27" font-size="4.70" fill="#9a9a9a" textLength="29.13" lengthAdjust="spacingAndGlyphs" stroke="#9a9a9a" stroke-width="0.1" transform="rotate(0.035 398.89 183.27)">25.6% OTRO</text>
<text x="398.89" y="202.31" font-size="4.70" fill="#111" font-weight="700" textLength="52.32" lengthAdjust="spacingAndGlyphs" stroke="#111" stroke-width="0.12" transform="rotate(0.035 398.89 202.31)">15.4% AÚN NO DECIDE</text>
<text x="398.89" y="216.18" font-size="4.70" fill="#cf3a2e" font-weight="700" textLength="66.63" lengthAdjust="spacingAndGlyphs" stroke="#cf3a2e" stroke-width="0.12" transform="rotate(0.035 398.89 216.18)">10.3% JORGE ESQUIVEL RUÍZ</text>
</svg>
<svg class="p" id="p5" style="left:0px;top:627.6px;" width="537.00" height="302.00" viewBox="0 0.000 529.325 299.306" preserveAspectRatio="none">
<path d="M56.5,0 A156.5,156.5 0 0 0 150,31.1 L313,31.1 A165,165 0 0 0 409.3,0 Z" fill="url(#rg)"/>
<circle cx="464" cy="-96.7" r="142" fill="#212e5e"/>
<g transform="translate(0,0)"><rect x="21.5" y="7.3" width="17.9" height="11.8" rx="4.6" fill="none" stroke="url(#lr)" stroke-width="2.8"/><path d="M23.4,22.6 L28.4,16.9 Q33,15.4 38.6,16.2" fill="none" stroke="#b52424" stroke-width="2.5" stroke-linejoin="round"/><rect x="29.7" y="13.6" width="13.7" height="9.2" rx="4.1" fill="none" stroke="url(#lb)" stroke-width="2.6"/><path d="M38.8,22.6 L41.5,25.6" fill="none" stroke="#1f4fb0" stroke-width="2.4"/></g>
<g transform="translate(420,277.0)" filter="url(#sh)"><circle r="7.3" fill="#7aa45b"/><path d="M-5.2,7.6 L-4.2,3.5 L-1,6 Z" fill="#7aa45b"/><path transform="scale(0.86)" d="M-3.1,-3.6 q1.2,-1 1.9,0.2 l0.7,1.5 q0.2,0.6 -0.6,1.2 q0.9,2 2.9,2.9 q0.7,-0.9 1.2,-0.6 l1.5,0.8 q1.1,0.7 0.1,1.8 q-1.6,1.4 -4.5,-0.4 q-2.4,-1.6 -3.6,-4.4 q-0.6,-1.9 0.4,-3 z" fill="#fff"/></g>
<g transform="translate(443,276.4)" filter="url(#sh)"><circle r="8" fill="#5a9bd4"/><path d="M-4.6,0.2 L4.4,-3.6 L2.8,4 L0.2,2.2 L-1.2,3.6 L-1.4,1.2 L2.6,-2.2 L-2.4,0.8 Z" fill="#fff"/></g>
<g transform="translate(469.6,276.8)" filter="url(#sh)"><circle r="8.2" fill="#3b79e8"/><path d="M0.9,8.2 V1.6 H3.2 L3.6,-1.2 H0.9 V-2.8 Q0.9,-4.2 2.4,-4.2 H3.7 V-6.6 Q2.7,-6.8 1.5,-6.8 Q-2,-6.8 -2,-3.2 V-1.2 H-4.3 V1.6 H-2 V8.2 Z" fill="#fff"/></g>
<g transform="translate(492.8,276.5)" filter="url(#sh)"><rect x="-7.8" y="-7.4" width="15.6" height="14.8" fill="#000"/><path d="M-5.2,-5.6 H-2.2 L5.4,5.6 H2.4 Z M4.6,-5.6 L-4.8,5.6" fill="none" stroke="#fff" stroke-width="1.1"/></g>
<g transform="translate(516.8,277.0)" filter="url(#sh)"><rect x="-8.2" y="-8" width="16.4" height="16" rx="3.8" fill="url(#ig)"/><rect x="-5.2" y="-5" width="10.4" height="10" rx="2.8" fill="none" stroke="#fff" stroke-width="1.2"/><circle r="2.5" fill="none" stroke="#fff" stroke-width="1.2"/><circle cx="3.2" cy="-3.1" r="0.7" fill="#fff"/></g>
<text x="148.40" y="17.60" font-size="6.40" fill="#fff" textLength="154.60" lengthAdjust="spacingAndGlyphs" stroke="#fff" stroke-width="0.12" transform="rotate(0.035 148.40 17.60)">Última encuesta elaborada: 03 DE MARZO DEL 2026</text>
<text x="430.50" y="20.81" font-size="10.20" fill="#fff" font-weight="700" textLength="55.00" lengthAdjust="spacingAndGlyphs" transform="rotate(0.035 430.50 20.81)">CAMPECHE</text>
<text x="32.50" y="34.40" font-size="9.00" fill="#444" font-weight="700" text-anchor="middle" textLength="33.50" lengthAdjust="spacingAndGlyphs" transform="rotate(0.035 32.50 34.40)">Massive</text>
<text x="32.30" y="41.63" font-size="8.80" fill="#9a9a9a" text-anchor="middle" textLength="24.00" lengthAdjust="spacingAndGlyphs" transform="rotate(0.035 32.30 41.63)">Caller</text>
<rect x="16.10" y="258.50" width="65.30" height="29.30" fill="#fff" stroke="#c9c9c9" stroke-width="0.6"/>
<rect x="16.10" y="258.50" width="65.30" height="11.80" fill="#264a94" />
<rect x="48.10" y="270.30" width="0.60" height="17.50" fill="#c9c9c9" />
<text x="32.40" y="263.14" font-size="3.90" fill="#fff" font-weight="700" text-anchor="middle" textLength="22.60" lengthAdjust="spacingAndGlyphs" transform="rotate(0.035 32.40 263.14)">ENCUESTAS</text>
<text x="32.40" y="267.64" font-size="3.90" fill="#fff" font-weight="700" text-anchor="middle" textLength="23.80" lengthAdjust="spacingAndGlyphs" transform="rotate(0.035 32.40 267.64)">REALIZADAS</text>
<text x="64.70" y="265.24" font-size="3.90" fill="#fff" font-weight="700" text-anchor="middle" textLength="7.40" lengthAdjust="spacingAndGlyphs" transform="rotate(0.035 64.70 265.24)">M.E.</text>
<text x="32.30" y="281.18" font-size="7.20" fill="#111" font-weight="700" text-anchor="middle" textLength="11.50" lengthAdjust="spacingAndGlyphs" transform="rotate(0.035 32.30 281.18)">600</text>
<text x="65.20" y="281.11" font-size="7.00" fill="#111" font-weight="700" text-anchor="middle" textLength="25.00" lengthAdjust="spacingAndGlyphs" transform="rotate(0.035 65.20 281.11)">+/- 4.3%</text>
<rect x="292.00" y="261.30" width="239.00" height="0.60" fill="#ececec" />
<text x="260.70" y="276.44" font-size="6.50" fill="#2c4a90" textLength="118.90" lengthAdjust="spacingAndGlyphs" stroke="#2c4a90" stroke-width="0.28" transform="rotate(0.035 260.70 276.44)">Massive Caller Whatsapp: 81 1798 1079</text>
<text x="260.70" y="284.44" font-size="6.50" fill="#2c4a90" textLength="21.20" lengthAdjust="spacingAndGlyphs" stroke="#2c4a90" stroke-width="0.28" transform="rotate(0.035 260.70 284.44)">Correo:</text>
<text x="284.00" y="284.44" font-size="6.50" fill="#33539a" textLength="115.70" lengthAdjust="spacingAndGlyphs" stroke="#33539a" stroke-width="0.1" transform="rotate(0.035 284.00 284.44)">carlos.campos.riojas@massivecaller.com</text>
<text x="506.50" y="295.32" font-size="14.60" fill="#a0a0a0" text-anchor="end" textLength="31.50" lengthAdjust="spacingAndGlyphs" transform="rotate(0.035 506.50 295.32)">8/21</text>
<text x="517.50" y="197.10" font-size="4.40" fill="#555" textLength="91.40" lengthAdjust="spacingAndGlyphs" stroke="#555" stroke-width="0.08" transform="rotate(-90.035 517.50 197.10)">D.R., (C) MASSIVE CALLER S.A DE C.V., 2026</text>
<text x="523.20" y="250.00" font-size="4.40" fill="#555" textLength="198.00" lengthAdjust="spacingAndGlyphs" stroke="#555" stroke-width="0.08" transform="rotate(-90.035 523.20 250.00)">Se autoriza la reproducción al hacer referencia del autor, salvo aplique veda electoral al contenido.</text>
<text x="27.21" y="60.73" font-size="12.90" fill="#1a1a1a" textLength="476.00" lengthAdjust="spacingAndGlyphs" stroke="#1a1a1a" stroke-width="0.12" transform="rotate(0.035 27.21 60.73)">USTED SEÑALÓ QUE PIENSA VOTAR POR MORENA. DE LAS SIGUIENTES PERSONAS,</text>
<text x="26.02" y="76.78" font-size="12.60" fill="#0a0a0a" font-weight="700" textLength="478.17" lengthAdjust="spacingAndGlyphs" stroke="#0a0a0a" stroke-width="0.6" transform="rotate(0.035 26.02 76.78)">¿QUIÉN LE GUSTARÍA QUE FUERA EL CANDIDATO PARA ALCALDE DE MORENA?</text>
<rect x="274.62" y="96.23" width="74.32" height="20.42" fill="#b0241c" />
<text x="262.40" y="111.62" font-size="9.00" fill="#262626" text-anchor="end" textLength="62.00" lengthAdjust="spacingAndGlyphs" stroke="#262626" stroke-width="0.1" transform="rotate(0.035 262.40 111.62)">JAMILE MOGUEL</text>
<text x="357.02" y="111.48" font-size="8.60" fill="#a8281f" font-weight="700" textLength="24.45" lengthAdjust="spacingAndGlyphs" stroke="#a8281f" stroke-width="0.1" transform="rotate(0.035 357.02 111.48)">29.9%</text>
<rect x="274.62" y="126.26" width="51.36" height="20.42" fill="#b0241c" />
<text x="262.40" y="141.65" font-size="9.00" fill="#262626" text-anchor="end" textLength="123.80" lengthAdjust="spacingAndGlyphs" stroke="#262626" stroke-width="0.1" transform="rotate(0.035 262.40 141.65)">ESTEBAN HINOJOSA REBOLLEDO</text>
<text x="334.35" y="141.51" font-size="8.60" fill="#a8281f" font-weight="700" textLength="23.66" lengthAdjust="spacingAndGlyphs" stroke="#a8281f" stroke-width="0.1" transform="rotate(0.035 334.35 141.51)">20.7%</text>
<rect x="274.62" y="156.49" width="19.12" height="20.42" fill="#b0241c" />
<text x="262.40" y="171.88" font-size="9.00" fill="#262626" text-anchor="end" textLength="110.40" lengthAdjust="spacingAndGlyphs" stroke="#262626" stroke-width="0.1" transform="rotate(0.035 262.40 171.88)">VANIA KELLEHER HERNÁNDEZ</text>
<text x="302.41" y="171.74" font-size="8.60" fill="#a8281f" font-weight="700" textLength="19.22" lengthAdjust="spacingAndGlyphs" stroke="#a8281f" stroke-width="0.1" transform="rotate(0.035 302.41 171.74)">7.8%</text>
<rect x="274.62" y="187.12" width="54.90" height="20.12" fill="#8b8b8b" />
<text x="262.40" y="202.35" font-size="9.00" fill="#262626" text-anchor="end" textLength="22.38" lengthAdjust="spacingAndGlyphs" stroke="#262626" stroke-width="0.1" transform="rotate(0.035 262.40 202.35)">OTRO</text>
<text x="338.20" y="202.22" font-size="8.60" fill="#9a9a9a" textLength="21.69" lengthAdjust="spacingAndGlyphs" stroke="#9a9a9a" stroke-width="0.12" transform="rotate(0.035 338.20 202.22)">22.1%</text>
<rect x="274.62" y="217.15" width="48.40" height="20.12" fill="#000" />
<text x="262.40" y="232.38" font-size="9.00" fill="#262626" text-anchor="end" textLength="62.00" lengthAdjust="spacingAndGlyphs" stroke="#262626" stroke-width="0.1" transform="rotate(0.035 262.40 232.38)">AÚN NO DECIDE</text>
<text x="331.39" y="232.24" font-size="8.60" fill="#111" font-weight="700" textLength="22.67" lengthAdjust="spacingAndGlyphs" stroke="#111" stroke-width="0.1" transform="rotate(0.035 331.39 232.24)">19.5%</text>
</svg>
<svg class="p" id="p6" style="left:537px;top:632.9px;" width="520.00" height="294.10" viewBox="0 0.406 530.775 298.730" preserveAspectRatio="none">
<path d="M56.5,0 A156.5,156.5 0 0 0 150,31.1 L313,31.1 A165,165 0 0 0 409.3,0 Z" fill="url(#rg)"/>
<circle cx="464" cy="-96.7" r="142" fill="#212e5e"/>
<g transform="translate(0,0)"><rect x="21.5" y="7.3" width="17.9" height="11.8" rx="4.6" fill="none" stroke="url(#lr)" stroke-width="2.8"/><path d="M23.4,22.6 L28.4,16.9 Q33,15.4 38.6,16.2" fill="none" stroke="#b52424" stroke-width="2.5" stroke-linejoin="round"/><rect x="29.7" y="13.6" width="13.7" height="9.2" rx="4.1" fill="none" stroke="url(#lb)" stroke-width="2.6"/><path d="M38.8,22.6 L41.5,25.6" fill="none" stroke="#1f4fb0" stroke-width="2.4"/></g>
<g transform="translate(420,277.0)" filter="url(#sh)"><circle r="7.3" fill="#7aa45b"/><path d="M-5.2,7.6 L-4.2,3.5 L-1,6 Z" fill="#7aa45b"/><path transform="scale(0.86)" d="M-3.1,-3.6 q1.2,-1 1.9,0.2 l0.7,1.5 q0.2,0.6 -0.6,1.2 q0.9,2 2.9,2.9 q0.7,-0.9 1.2,-0.6 l1.5,0.8 q1.1,0.7 0.1,1.8 q-1.6,1.4 -4.5,-0.4 q-2.4,-1.6 -3.6,-4.4 q-0.6,-1.9 0.4,-3 z" fill="#fff"/></g>
<g transform="translate(443,276.4)" filter="url(#sh)"><circle r="8" fill="#5a9bd4"/><path d="M-4.6,0.2 L4.4,-3.6 L2.8,4 L0.2,2.2 L-1.2,3.6 L-1.4,1.2 L2.6,-2.2 L-2.4,0.8 Z" fill="#fff"/></g>
<g transform="translate(469.6,276.8)" filter="url(#sh)"><circle r="8.2" fill="#3b79e8"/><path d="M0.9,8.2 V1.6 H3.2 L3.6,-1.2 H0.9 V-2.8 Q0.9,-4.2 2.4,-4.2 H3.7 V-6.6 Q2.7,-6.8 1.5,-6.8 Q-2,-6.8 -2,-3.2 V-1.2 H-4.3 V1.6 H-2 V8.2 Z" fill="#fff"/></g>
<g transform="translate(492.8,276.5)" filter="url(#sh)"><rect x="-7.8" y="-7.4" width="15.6" height="14.8" fill="#000"/><path d="M-5.2,-5.6 H-2.2 L5.4,5.6 H2.4 Z M4.6,-5.6 L-4.8,5.6" fill="none" stroke="#fff" stroke-width="1.1"/></g>
<g transform="translate(516.8,277.0)" filter="url(#sh)"><rect x="-8.2" y="-8" width="16.4" height="16" rx="3.8" fill="url(#ig)"/><rect x="-5.2" y="-5" width="10.4" height="10" rx="2.8" fill="none" stroke="#fff" stroke-width="1.2"/><circle r="2.5" fill="none" stroke="#fff" stroke-width="1.2"/><circle cx="3.2" cy="-3.1" r="0.7" fill="#fff"/></g>
<text x="148.40" y="17.60" font-size="6.40" fill="#fff" textLength="154.60" lengthAdjust="spacingAndGlyphs" stroke="#fff" stroke-width="0.12" transform="rotate(0.035 148.40 17.60)">Última encuesta elaborada: 03 DE MARZO DEL 2026</text>
<text x="430.50" y="20.81" font-size="10.20" fill="#fff" font-weight="700" textLength="55.00" lengthAdjust="spacingAndGlyphs" transform="rotate(0.035 430.50 20.81)">CAMPECHE</text>
<text x="32.50" y="34.40" font-size="9.00" fill="#444" font-weight="700" text-anchor="middle" textLength="33.50" lengthAdjust="spacingAndGlyphs" transform="rotate(0.035 32.50 34.40)">Massive</text>
<text x="32.30" y="41.63" font-size="8.80" fill="#9a9a9a" text-anchor="middle" textLength="24.00" lengthAdjust="spacingAndGlyphs" transform="rotate(0.035 32.30 41.63)">Caller</text>
<rect x="16.10" y="258.50" width="65.30" height="29.30" fill="#fff" stroke="#c9c9c9" stroke-width="0.6"/>
<rect x="16.10" y="258.50" width="65.30" height="11.80" fill="#264a94" />
<rect x="48.10" y="270.30" width="0.60" height="17.50" fill="#c9c9c9" />
<text x="32.40" y="263.14" font-size="3.90" fill="#fff" font-weight="700" text-anchor="middle" textLength="22.60" lengthAdjust="spacingAndGlyphs" transform="rotate(0.035 32.40 263.14)">ENCUESTAS</text>
<text x="32.40" y="267.64" font-size="3.90" fill="#fff" font-weight="700" text-anchor="middle" textLength="23.80" lengthAdjust="spacingAndGlyphs" transform="rotate(0.035 32.40 267.64)">REALIZADAS</text>
<text x="64.70" y="265.24" font-size="3.90" fill="#fff" font-weight="700" text-anchor="middle" textLength="7.40" lengthAdjust="spacingAndGlyphs" transform="rotate(0.035 64.70 265.24)">M.E.</text>
<text x="32.30" y="281.18" font-size="7.20" fill="#111" font-weight="700" text-anchor="middle" textLength="11.50" lengthAdjust="spacingAndGlyphs" transform="rotate(0.035 32.30 281.18)">600</text>
<text x="65.20" y="281.11" font-size="7.00" fill="#111" font-weight="700" text-anchor="middle" textLength="25.00" lengthAdjust="spacingAndGlyphs" transform="rotate(0.035 65.20 281.11)">+/- 4.3%</text>
<rect x="292.00" y="261.30" width="239.00" height="0.60" fill="#ececec" />
<text x="260.70" y="276.44" font-size="6.50" fill="#2c4a90" textLength="118.90" lengthAdjust="spacingAndGlyphs" stroke="#2c4a90" stroke-width="0.28" transform="rotate(0.035 260.70 276.44)">Massive Caller Whatsapp: 81 1798 1079</text>
<text x="260.70" y="284.44" font-size="6.50" fill="#2c4a90" textLength="21.20" lengthAdjust="spacingAndGlyphs" stroke="#2c4a90" stroke-width="0.28" transform="rotate(0.035 260.70 284.44)">Correo:</text>
<text x="284.00" y="284.44" font-size="6.50" fill="#33539a" textLength="115.70" lengthAdjust="spacingAndGlyphs" stroke="#33539a" stroke-width="0.1" transform="rotate(0.035 284.00 284.44)">carlos.campos.riojas@massivecaller.com</text>
<text x="506.50" y="295.32" font-size="14.60" fill="#a0a0a0" text-anchor="end" textLength="39.50" lengthAdjust="spacingAndGlyphs" transform="rotate(0.035 506.50 295.32)">10/21</text>
<text x="517.50" y="197.10" font-size="4.40" fill="#555" textLength="91.40" lengthAdjust="spacingAndGlyphs" stroke="#555" stroke-width="0.08" transform="rotate(-90.035 517.50 197.10)">D.R., (C) MASSIVE CALLER S.A DE C.V., 2026</text>
<text x="523.20" y="250.00" font-size="4.40" fill="#555" textLength="198.00" lengthAdjust="spacingAndGlyphs" stroke="#555" stroke-width="0.08" transform="rotate(-90.035 523.20 250.00)">Se autoriza la reproducción al hacer referencia del autor, salvo aplique veda electoral al contenido.</text>
<text x="54.00" y="57.64" font-size="9.30" fill="#1a1a1a" textLength="421.25" lengthAdjust="spacingAndGlyphs" stroke="#1a1a1a" stroke-width="0.12" transform="rotate(0.035 54.00 57.64)">USTED SEÑALÓ QUE PIENSA VOTAR POR MOVIMIENTO CIUDADANO. DE LAS SIGUIENTES PERSONAS,</text>
<text x="51.24" y="69.59" font-size="9.20" fill="#0a0a0a" font-weight="700" textLength="427.48" lengthAdjust="spacingAndGlyphs" stroke="#0a0a0a" stroke-width="0.6" transform="rotate(0.035 51.24 69.59)">¿QUIÉN LE GUSTARÍA QUE FUERA EL CANDIDATO PARA ALCALDE DE MOVIMIENTO CIUDADANO?</text>
<rect x="274.78" y="97.00" width="81.66" height="14.83" fill="#e08548" />
<text x="267.12" y="107.92" font-size="9.00" fill="#262626" text-anchor="end" textLength="115.34" lengthAdjust="spacingAndGlyphs" stroke="#262626" stroke-width="0.1" transform="rotate(0.035 267.12 107.92)">PAUL ALFREDO ARCE ONTIVEROS</text>
<text x="360.72" y="107.78" font-size="8.60" fill="#e08a52" font-weight="700" textLength="21.44" lengthAdjust="spacingAndGlyphs" stroke="#e08a52" stroke-width="0.1" transform="rotate(0.035 360.72 107.78)">32.9%</text>
<rect x="274.78" y="118.23" width="37.77" height="14.73" fill="#e08548" />
<text x="267.12" y="129.10" font-size="9.00" fill="#262626" text-anchor="end" textLength="85.03" lengthAdjust="spacingAndGlyphs" stroke="#262626" stroke-width="0.1" transform="rotate(0.035 267.12 129.10)">PEDRO ARMENTÍA LÓPEZ</text>
<text x="316.22" y="128.96" font-size="8.60" fill="#e08a52" font-weight="700" textLength="18.37" lengthAdjust="spacingAndGlyphs" stroke="#e08a52" stroke-width="0.1" transform="rotate(0.035 316.22 128.96)">15.1%</text>
<rect x="274.78" y="139.46" width="17.05" height="14.73" fill="#e08548" />
<text x="267.12" y="150.33" font-size="9.00" fill="#262626" text-anchor="end" textLength="109.12" lengthAdjust="spacingAndGlyphs" stroke="#262626" stroke-width="0.1" transform="rotate(0.035 267.12 150.33)">TANIA DOMÍNGUEZ FERNÁNDEZ</text>
<text x="295.80" y="150.19" font-size="8.60" fill="#e08a52" font-weight="700" textLength="17.35" lengthAdjust="spacingAndGlyphs" stroke="#e08a52" stroke-width="0.1" transform="rotate(0.035 295.80 150.19)">6.8%</text>
<rect x="274.78" y="160.69" width="6.84" height="14.73" fill="#e08548" />
<text x="267.12" y="171.56" font-size="9.00" fill="#262626" text-anchor="end" textLength="97.99" lengthAdjust="spacingAndGlyphs" stroke="#262626" stroke-width="0.1" transform="rotate(0.035 267.12 171.56)">ELEAZAR HERRERA VÁZQUEZ</text>
<text x="285.60" y="171.42" font-size="8.60" fill="#e08a52" font-weight="700" textLength="16.33" lengthAdjust="spacingAndGlyphs" stroke="#e08a52" stroke-width="0.1" transform="rotate(0.035 285.60 171.42)">2.7%</text>
<rect x="274.78" y="181.92" width="58.18" height="14.73" fill="#8b8b8b" />
<text x="267.12" y="192.79" font-size="9.00" fill="#262626" text-anchor="end" textLength="20.11" lengthAdjust="spacingAndGlyphs" stroke="#262626" stroke-width="0.1" transform="rotate(0.035 267.12 192.79)">OTRO</text>
<text x="336.94" y="192.65" font-size="8.60" fill="#9a9a9a" textLength="20.92" lengthAdjust="spacingAndGlyphs" stroke="#9a9a9a" stroke-width="0.12" transform="rotate(0.035 336.94 192.65)">23.3%</text>
<rect x="274.78" y="203.15" width="47.67" height="14.73" fill="#000" />
<text x="267.12" y="214.02" font-size="9.00" fill="#262626" text-anchor="end" textLength="56.24" lengthAdjust="spacingAndGlyphs" stroke="#262626" stroke-width="0.1" transform="rotate(0.035 267.12 214.02)">AÚN NO DECIDE</text>
<text x="326.43" y="213.88" font-size="8.60" fill="#111" font-weight="700" textLength="20.41" lengthAdjust="spacingAndGlyphs" stroke="#111" stroke-width="0.1" transform="rotate(0.035 326.43 213.88)">19.2%</text>
</svg>
<svg class="p" id="p7" style="left:0px;top:942.0px;" width="537.00" height="301.60" viewBox="0 0.000 529.325 298.910" preserveAspectRatio="none">
<path d="M56.5,0 A156.5,156.5 0 0 0 150,31.1 L313,31.1 A165,165 0 0 0 409.3,0 Z" fill="url(#rg)"/>
<circle cx="464" cy="-96.7" r="142" fill="#212e5e"/>
<g transform="translate(0,0)"><rect x="21.5" y="7.3" width="17.9" height="11.8" rx="4.6" fill="none" stroke="url(#lr)" stroke-width="2.8"/><path d="M23.4,22.6 L28.4,16.9 Q33,15.4 38.6,16.2" fill="none" stroke="#b52424" stroke-width="2.5" stroke-linejoin="round"/><rect x="29.7" y="13.6" width="13.7" height="9.2" rx="4.1" fill="none" stroke="url(#lb)" stroke-width="2.6"/><path d="M38.8,22.6 L41.5,25.6" fill="none" stroke="#1f4fb0" stroke-width="2.4"/></g>
<g transform="translate(420,277.0)" filter="url(#sh)"><circle r="7.3" fill="#7aa45b"/><path d="M-5.2,7.6 L-4.2,3.5 L-1,6 Z" fill="#7aa45b"/><path transform="scale(0.86)" d="M-3.1,-3.6 q1.2,-1 1.9,0.2 l0.7,1.5 q0.2,0.6 -0.6,1.2 q0.9,2 2.9,2.9 q0.7,-0.9 1.2,-0.6 l1.5,0.8 q1.1,0.7 0.1,1.8 q-1.6,1.4 -4.5,-0.4 q-2.4,-1.6 -3.6,-4.4 q-0.6,-1.9 0.4,-3 z" fill="#fff"/></g>
<g transform="translate(443,276.4)" filter="url(#sh)"><circle r="8" fill="#5a9bd4"/><path d="M-4.6,0.2 L4.4,-3.6 L2.8,4 L0.2,2.2 L-1.2,3.6 L-1.4,1.2 L2.6,-2.2 L-2.4,0.8 Z" fill="#fff"/></g>
<g transform="translate(469.6,276.8)" filter="url(#sh)"><circle r="8.2" fill="#3b79e8"/><path d="M0.9,8.2 V1.6 H3.2 L3.6,-1.2 H0.9 V-2.8 Q0.9,-4.2 2.4,-4.2 H3.7 V-6.6 Q2.7,-6.8 1.5,-6.8 Q-2,-6.8 -2,-3.2 V-1.2 H-4.3 V1.6 H-2 V8.2 Z" fill="#fff"/></g>
<g transform="translate(492.8,276.5)" filter="url(#sh)"><rect x="-7.8" y="-7.4" width="15.6" height="14.8" fill="#000"/><path d="M-5.2,-5.6 H-2.2 L5.4,5.6 H2.4 Z M4.6,-5.6 L-4.8,5.6" fill="none" stroke="#fff" stroke-width="1.1"/></g>
<g transform="translate(516.8,277.0)" filter="url(#sh)"><rect x="-8.2" y="-8" width="16.4" height="16" rx="3.8" fill="url(#ig)"/><rect x="-5.2" y="-5" width="10.4" height="10" rx="2.8" fill="none" stroke="#fff" stroke-width="1.2"/><circle r="2.5" fill="none" stroke="#fff" stroke-width="1.2"/><circle cx="3.2" cy="-3.1" r="0.7" fill="#fff"/></g>
<polyline points="61.61,121.51 119.66,124.58 177.72,128.34 236.18,135.08 294.23,130.03 352.29,166.40" fill="none" stroke="#9a9a9a" stroke-width="1.45" stroke-linejoin="round" stroke-linecap="round"/>
<circle cx="61.61" cy="121.51" r="1.25" fill="#9a9a9a"/>
<circle cx="119.66" cy="124.58" r="1.25" fill="#9a9a9a"/>
<circle cx="177.72" cy="128.34" r="1.25" fill="#9a9a9a"/>
<circle cx="236.18" cy="135.08" r="1.25" fill="#9a9a9a"/>
<circle cx="294.23" cy="130.03" r="1.25" fill="#9a9a9a"/>
<circle cx="352.29" cy="166.40" r="1.25" fill="#9a9a9a"/>
<polyline points="61.61,151.24 119.66,143.51 177.72,147.18 236.18,139.74 294.23,145.19 352.29,142.52" fill="none" stroke="#a9251e" stroke-width="1.45" stroke-linejoin="round" stroke-linecap="round"/>
<circle cx="61.61" cy="151.24" r="1.25" fill="#a9251e"/>
<circle cx="119.66" cy="143.51" r="1.25" fill="#a9251e"/>
<circle cx="177.72" cy="147.18" r="1.25" fill="#a9251e"/>
<circle cx="236.18" cy="139.74" r="1.25" fill="#a9251e"/>
<circle cx="294.23" cy="145.19" r="1.25" fill="#a9251e"/>
<circle cx="352.29" cy="142.52" r="1.25" fill="#a9251e"/>
<polyline points="61.61,167.10 119.66,169.87 177.72,166.11 236.18,161.35 294.23,164.72 352.29,174.53" fill="none" stroke="#111" stroke-width="1.45" stroke-linejoin="round" stroke-linecap="round"/>
<circle cx="61.61" cy="167.10" r="1.25" fill="#111"/>
<circle cx="119.66" cy="169.87" r="1.25" fill="#111"/>
<circle cx="177.72" cy="166.11" r="1.25" fill="#111"/>
<circle cx="236.18" cy="161.35" r="1.25" fill="#111"/>
<circle cx="294.23" cy="164.72" r="1.25" fill="#111"/>
<circle cx="352.29" cy="174.53" r="1.25" fill="#111"/>
<polyline points="61.61,190.78 119.66,192.77 177.72,188.70 236.18,194.45 294.23,190.39 352.29,210.31" fill="none" stroke="#a9251e" stroke-width="1.45" stroke-linejoin="round" stroke-linecap="round"/>
<circle cx="61.61" cy="190.78" r="1.25" fill="#a9251e"/>
<circle cx="119.66" cy="192.77" r="1.25" fill="#a9251e"/>
<circle cx="177.72" cy="188.70" r="1.25" fill="#a9251e"/>
<circle cx="236.18" cy="194.45" r="1.25" fill="#a9251e"/>
<circle cx="294.23" cy="190.39" r="1.25" fill="#a9251e"/>
<circle cx="352.29" cy="210.31" r="1.25" fill="#a9251e"/>
<circle cx="352.29" cy="170.86" r="1.25" fill="#a9251e"/>
<text x="148.40" y="17.60" font-size="6.40" fill="#fff" textLength="154.60" lengthAdjust="spacingAndGlyphs" stroke="#fff" stroke-width="0.12" transform="rotate(0.035 148.40 17.60)">Última encuesta elaborada: 03 DE MARZO DEL 2026</text>
<text x="430.50" y="20.81" font-size="10.20" fill="#fff" font-weight="700" textLength="55.00" lengthAdjust="spacingAndGlyphs" transform="rotate(0.035 430.50 20.81)">CAMPECHE</text>
<text x="32.50" y="34.40" font-size="9.00" fill="#444" font-weight="700" text-anchor="middle" textLength="33.50" lengthAdjust="spacingAndGlyphs" transform="rotate(0.035 32.50 34.40)">Massive</text>
<text x="32.30" y="41.63" font-size="8.80" fill="#9a9a9a" text-anchor="middle" textLength="24.00" lengthAdjust="spacingAndGlyphs" transform="rotate(0.035 32.30 41.63)">Caller</text>
<rect x="16.10" y="258.50" width="65.30" height="29.30" fill="#fff" stroke="#c9c9c9" stroke-width="0.6"/>
<rect x="16.10" y="258.50" width="65.30" height="11.80" fill="#264a94" />
<rect x="48.10" y="270.30" width="0.60" height="17.50" fill="#c9c9c9" />
<text x="32.40" y="263.14" font-size="3.90" fill="#fff" font-weight="700" text-anchor="middle" textLength="22.60" lengthAdjust="spacingAndGlyphs" transform="rotate(0.035 32.40 263.14)">ENCUESTAS</text>
<text x="32.40" y="267.64" font-size="3.90" fill="#fff" font-weight="700" text-anchor="middle" textLength="23.80" lengthAdjust="spacingAndGlyphs" transform="rotate(0.035 32.40 267.64)">REALIZADAS</text>
<text x="64.70" y="265.24" font-size="3.90" fill="#fff" font-weight="700" text-anchor="middle" textLength="7.40" lengthAdjust="spacingAndGlyphs" transform="rotate(0.035 64.70 265.24)">M.E.</text>
<text x="32.30" y="281.18" font-size="7.20" fill="#111" font-weight="700" text-anchor="middle" textLength="11.50" lengthAdjust="spacingAndGlyphs" transform="rotate(0.035 32.30 281.18)">600</text>
<text x="65.20" y="281.11" font-size="7.00" fill="#111" font-weight="700" text-anchor="middle" textLength="25.00" lengthAdjust="spacingAndGlyphs" transform="rotate(0.035 65.20 281.11)">+/- 4.3%</text>
<rect x="292.00" y="261.30" width="239.00" height="0.60" fill="#ececec" />
<text x="260.70" y="276.44" font-size="6.50" fill="#2c4a90" textLength="118.90" lengthAdjust="spacingAndGlyphs" stroke="#2c4a90" stroke-width="0.28" transform="rotate(0.035 260.70 276.44)">Massive Caller Whatsapp: 81 1798 1079</text>
<text x="260.70" y="284.44" font-size="6.50" fill="#2c4a90" textLength="21.20" lengthAdjust="spacingAndGlyphs" stroke="#2c4a90" stroke-width="0.28" transform="rotate(0.035 260.70 284.44)">Correo:</text>
<text x="284.00" y="284.44" font-size="6.50" fill="#33539a" textLength="115.70" lengthAdjust="spacingAndGlyphs" stroke="#33539a" stroke-width="0.1" transform="rotate(0.035 284.00 284.44)">carlos.campos.riojas@massivecaller.com</text>
<text x="506.50" y="295.32" font-size="14.60" fill="#a0a0a0" text-anchor="end" textLength="31.50" lengthAdjust="spacingAndGlyphs" transform="rotate(0.035 506.50 295.32)">9/21</text>
<text x="517.50" y="197.10" font-size="4.40" fill="#555" textLength="91.40" lengthAdjust="spacingAndGlyphs" stroke="#555" stroke-width="0.08" transform="rotate(-90.035 517.50 197.10)">D.R., (C) MASSIVE CALLER S.A DE C.V., 2026</text>
<text x="523.20" y="250.00" font-size="4.40" fill="#555" textLength="198.00" lengthAdjust="spacingAndGlyphs" stroke="#555" stroke-width="0.08" transform="rotate(-90.035 523.20 250.00)">Se autoriza la reproducción al hacer referencia del autor, salvo aplique veda electoral al contenido.</text>
<text x="27.21" y="60.93" font-size="12.90" fill="#1a1a1a" textLength="476.00" lengthAdjust="spacingAndGlyphs" stroke="#1a1a1a" stroke-width="0.12" transform="rotate(0.035 27.21 60.93)">USTED SEÑALÓ QUE PIENSA VOTAR POR MORENA. DE LAS SIGUIENTES PERSONAS,</text>
<text x="26.02" y="76.88" font-size="12.60" fill="#0a0a0a" font-weight="700" textLength="478.17" lengthAdjust="spacingAndGlyphs" stroke="#0a0a0a" stroke-width="0.6" transform="rotate(0.035 26.02 76.88)">¿QUIÉN LE GUSTARÍA QUE FUERA EL CANDIDATO PARA ALCALDE DE MORENA?</text>
<text x="239.72" y="90.09" font-size="9.50" fill="#d8372b" font-weight="700" textLength="50.96" lengthAdjust="spacingAndGlyphs" stroke="#d8372b" stroke-width="0.42" transform="rotate(0.035 239.72 90.09)">TRACKING</text>
<text x="61.61" y="243.39" font-size="5.72" fill="#2b2b2b" text-anchor="middle" textLength="27.60" lengthAdjust="spacingAndGlyphs" stroke="#2b2b2b" stroke-width="0.15" transform="rotate(0.035 61.61 243.39)">03-OCT-25</text>
<text x="119.66" y="243.39" font-size="5.72" fill="#2b2b2b" text-anchor="middle" textLength="27.91" lengthAdjust="spacingAndGlyphs" stroke="#2b2b2b" stroke-width="0.15" transform="rotate(0.035 119.66 243.39)">03-NOV-25</text>
<text x="177.72" y="243.39" font-size="5.72" fill="#2b2b2b" text-anchor="middle" textLength="25.46" lengthAdjust="spacingAndGlyphs" stroke="#2b2b2b" stroke-width="0.15" transform="rotate(0.035 177.72 243.39)">03-DIC-25</text>
<text x="236.18" y="243.39" font-size="5.72" fill="#2b2b2b" text-anchor="middle" textLength="27.30" lengthAdjust="spacingAndGlyphs" stroke="#2b2b2b" stroke-width="0.15" transform="rotate(0.035 236.18 243.39)">03-ENE-26</text>
<text x="294.23" y="243.39" font-size="5.72" fill="#2b2b2b" text-anchor="middle" textLength="26.69" lengthAdjust="spacingAndGlyphs" stroke="#2b2b2b" stroke-width="0.15" transform="rotate(0.035 294.23 243.39)">03-FEB-26</text>
<text x="352.29" y="243.39" font-size="5.72" fill="#2b2b2b" text-anchor="middle" textLength="28.22" lengthAdjust="spacingAndGlyphs" stroke="#2b2b2b" stroke-width="0.15" transform="rotate(0.035 352.29 243.39)">03-MAR-26</text>
<text x="398.82" y="136.86" font-size="6.90" fill="#a3282a" font-weight="700" textLength="75.41" lengthAdjust="spacingAndGlyphs" stroke="#a3282a" stroke-width="0.12" transform="rotate(0.035 398.82 136.86)">29.9% JAMILE MOGUEL</text>
<text x="398.82" y="166.20" font-size="6.90" fill="#8c8c8c" textLength="38.34" lengthAdjust="spacingAndGlyphs" stroke="#8c8c8c" stroke-width="0.1" transform="rotate(0.035 398.82 166.20)">22.1% OTRO</text>
<text x="398.82" y="176.80" font-size="6.90" fill="#a3282a" font-weight="700" textLength="88.12" lengthAdjust="spacingAndGlyphs" stroke="#a3282a" stroke-width="0.12" transform="rotate(0.035 398.82 176.80)">20.7% ESTEBAN HINOJOSA</text>
<text x="398.82" y="187.11" font-size="6.90" fill="#a3282a" font-weight="700" textLength="38.15" lengthAdjust="spacingAndGlyphs" stroke="#a3282a" stroke-width="0.12" transform="rotate(0.035 398.82 187.11)">REBOLLEDO</text>
<text x="398.82" y="197.52" font-size="6.90" fill="#111" font-weight="700" textLength="72.65" lengthAdjust="spacingAndGlyphs" stroke="#111" stroke-width="0.12" transform="rotate(0.035 398.82 197.52)">19.5% AÚN NO DECIDE</text>
<text x="398.82" y="208.22" font-size="6.90" fill="#a3282a" font-weight="700" textLength="71.27" lengthAdjust="spacingAndGlyphs" stroke="#a3282a" stroke-width="0.12" transform="rotate(0.035 398.82 208.22)">7.8% VANIA KELLEHER</text>
<text x="398.82" y="218.33" font-size="6.90" fill="#a3282a" font-weight="700" textLength="40.22" lengthAdjust="spacingAndGlyphs" stroke="#a3282a" stroke-width="0.12" transform="rotate(0.035 398.82 218.33)">HERNÁNDEZ</text>
<rect x="511.58" y="15.26" width="4.63" height="110.80" rx="2.32" fill="rgba(224,224,224,0.86)"/>
</svg>
<svg class="p" id="p8" style="left:537px;top:938.6px;" width="520.00" height="293.60" viewBox="0 0.914 530.775 298.071" preserveAspectRatio="none">
<path d="M56.5,0 A156.5,156.5 0 0 0 150,31.1 L313,31.1 A165,165 0 0 0 409.3,0 Z" fill="url(#rg)"/>
<circle cx="464" cy="-96.7" r="142" fill="#212e5e"/>
<g transform="translate(0,0)"><rect x="21.5" y="7.3" width="17.9" height="11.8" rx="4.6" fill="none" stroke="url(#lr)" stroke-width="2.8"/><path d="M23.4,22.6 L28.4,16.9 Q33,15.4 38.6,16.2" fill="none" stroke="#b52424" stroke-width="2.5" stroke-linejoin="round"/><rect x="29.7" y="13.6" width="13.7" height="9.2" rx="4.1" fill="none" stroke="url(#lb)" stroke-width="2.6"/><path d="M38.8,22.6 L41.5,25.6" fill="none" stroke="#1f4fb0" stroke-width="2.4"/></g>
<g transform="translate(420,277.0)" filter="url(#sh)"><circle r="7.3" fill="#7aa45b"/><path d="M-5.2,7.6 L-4.2,3.5 L-1,6 Z" fill="#7aa45b"/><path transform="scale(0.86)" d="M-3.1,-3.6 q1.2,-1 1.9,0.2 l0.7,1.5 q0.2,0.6 -0.6,1.2 q0.9,2 2.9,2.9 q0.7,-0.9 1.2,-0.6 l1.5,0.8 q1.1,0.7 0.1,1.8 q-1.6,1.4 -4.5,-0.4 q-2.4,-1.6 -3.6,-4.4 q-0.6,-1.9 0.4,-3 z" fill="#fff"/></g>
<g transform="translate(443,276.4)" filter="url(#sh)"><circle r="8" fill="#5a9bd4"/><path d="M-4.6,0.2 L4.4,-3.6 L2.8,4 L0.2,2.2 L-1.2,3.6 L-1.4,1.2 L2.6,-2.2 L-2.4,0.8 Z" fill="#fff"/></g>
<g transform="translate(469.6,276.8)" filter="url(#sh)"><circle r="8.2" fill="#3b79e8"/><path d="M0.9,8.2 V1.6 H3.2 L3.6,-1.2 H0.9 V-2.8 Q0.9,-4.2 2.4,-4.2 H3.7 V-6.6 Q2.7,-6.8 1.5,-6.8 Q-2,-6.8 -2,-3.2 V-1.2 H-4.3 V1.6 H-2 V8.2 Z" fill="#fff"/></g>
<g transform="translate(492.8,276.5)" filter="url(#sh)"><rect x="-7.8" y="-7.4" width="15.6" height="14.8" fill="#000"/><path d="M-5.2,-5.6 H-2.2 L5.4,5.6 H2.4 Z M4.6,-5.6 L-4.8,5.6" fill="none" stroke="#fff" stroke-width="1.1"/></g>
<g transform="translate(516.8,277.0)" filter="url(#sh)"><rect x="-8.2" y="-8" width="16.4" height="16" rx="3.8" fill="url(#ig)"/><rect x="-5.2" y="-5" width="10.4" height="10" rx="2.8" fill="none" stroke="#fff" stroke-width="1.2"/><circle r="2.5" fill="none" stroke="#fff" stroke-width="1.2"/><circle cx="3.2" cy="-3.1" r="0.7" fill="#fff"/></g>
<polyline points="61.75,123.65 119.83,115.03 178.22,111.88 236.30,121.22 294.68,114.72 353.07,121.62" fill="none" stroke="#dd8a55" stroke-width="1.45" stroke-linejoin="round" stroke-linecap="round"/>
<circle cx="61.75" cy="123.65" r="1.25" fill="#dd8a55"/>
<circle cx="119.83" cy="115.03" r="1.25" fill="#dd8a55"/>
<circle cx="178.22" cy="111.88" r="1.25" fill="#dd8a55"/>
<circle cx="236.30" cy="121.22" r="1.25" fill="#dd8a55"/>
<circle cx="294.68" cy="114.72" r="1.25" fill="#dd8a55"/>
<circle cx="353.07" cy="121.62" r="1.25" fill="#dd8a55"/>
<polyline points="61.75,136.45 119.83,140.30 178.22,146.19 236.30,155.53 294.68,152.39 353.07,154.42" fill="none" stroke="#9a9a9a" stroke-width="1.45" stroke-linejoin="round" stroke-linecap="round"/>
<circle cx="61.75" cy="136.45" r="1.25" fill="#9a9a9a"/>
<circle cx="119.83" cy="140.30" r="1.25" fill="#9a9a9a"/>
<circle cx="178.22" cy="146.19" r="1.25" fill="#9a9a9a"/>
<circle cx="236.30" cy="155.53" r="1.25" fill="#9a9a9a"/>
<circle cx="294.68" cy="152.39" r="1.25" fill="#9a9a9a"/>
<circle cx="353.07" cy="154.42" r="1.25" fill="#9a9a9a"/>
<polyline points="61.75,166.19 119.83,159.59 178.22,165.48 236.30,158.27 294.68,168.32 353.07,168.63" fill="none" stroke="#111" stroke-width="1.45" stroke-linejoin="round" stroke-linecap="round"/>
<circle cx="61.75" cy="166.19" r="1.25" fill="#111"/>
<circle cx="119.83" cy="159.59" r="1.25" fill="#111"/>
<circle cx="178.22" cy="165.48" r="1.25" fill="#111"/>
<circle cx="236.30" cy="158.27" r="1.25" fill="#111"/>
<circle cx="294.68" cy="168.32" r="1.25" fill="#111"/>
<circle cx="353.07" cy="168.63" r="1.25" fill="#111"/>
<polyline points="61.75,197.36 119.83,199.80 178.22,195.23 236.30,190.46 294.68,183.86 353.07,182.44" fill="none" stroke="#dd8a55" stroke-width="1.45" stroke-linejoin="round" stroke-linecap="round"/>
<circle cx="61.75" cy="197.36" r="1.25" fill="#dd8a55"/>
<circle cx="119.83" cy="199.80" r="1.25" fill="#dd8a55"/>
<circle cx="178.22" cy="195.23" r="1.25" fill="#dd8a55"/>
<circle cx="236.30" cy="190.46" r="1.25" fill="#dd8a55"/>
<circle cx="294.68" cy="183.86" r="1.25" fill="#dd8a55"/>
<circle cx="353.07" cy="182.44" r="1.25" fill="#dd8a55"/>
<polyline points="61.75,204.97 119.83,214.31 178.22,209.75 236.30,202.54 294.68,209.44 353.07,224.97" fill="none" stroke="#dd8a55" stroke-width="1.45" stroke-linejoin="round" stroke-linecap="round"/>
<circle cx="61.75" cy="204.97" r="1.25" fill="#dd8a55"/>
<circle cx="119.83" cy="214.31" r="1.25" fill="#dd8a55"/>
<circle cx="178.22" cy="209.75" r="1.25" fill="#dd8a55"/>
<circle cx="236.30" cy="202.54" r="1.25" fill="#dd8a55"/>
<circle cx="294.68" cy="209.44" r="1.25" fill="#dd8a55"/>
<circle cx="353.07" cy="224.97" r="1.25" fill="#dd8a55"/>
<circle cx="353.07" cy="210.86" r="1.25" fill="#dd8a55"/>
<text x="148.40" y="17.60" font-size="6.40" fill="#fff" textLength="154.60" lengthAdjust="spacingAndGlyphs" stroke="#fff" stroke-width="0.12" transform="rotate(0.035 148.40 17.60)">Última encuesta elaborada: 03 DE MARZO DEL 2026</text>
<text x="430.50" y="20.81" font-size="10.20" fill="#fff" font-weight="700" textLength="55.00" lengthAdjust="spacingAndGlyphs" transform="rotate(0.035 430.50 20.81)">CAMPECHE</text>
<text x="32.50" y="34.40" font-size="9.00" fill="#444" font-weight="700" text-anchor="middle" textLength="33.50" lengthAdjust="spacingAndGlyphs" transform="rotate(0.035 32.50 34.40)">Massive</text>
<text x="32.30" y="41.63" font-size="8.80" fill="#9a9a9a" text-anchor="middle" textLength="24.00" lengthAdjust="spacingAndGlyphs" transform="rotate(0.035 32.30 41.63)">Caller</text>
<rect x="16.10" y="258.50" width="65.30" height="29.30" fill="#fff" stroke="#c9c9c9" stroke-width="0.6"/>
<rect x="16.10" y="258.50" width="65.30" height="11.80" fill="#264a94" />
<rect x="48.10" y="270.30" width="0.60" height="17.50" fill="#c9c9c9" />
<text x="32.40" y="263.14" font-size="3.90" fill="#fff" font-weight="700" text-anchor="middle" textLength="22.60" lengthAdjust="spacingAndGlyphs" transform="rotate(0.035 32.40 263.14)">ENCUESTAS</text>
<text x="32.40" y="267.64" font-size="3.90" fill="#fff" font-weight="700" text-anchor="middle" textLength="23.80" lengthAdjust="spacingAndGlyphs" transform="rotate(0.035 32.40 267.64)">REALIZADAS</text>
<text x="64.70" y="265.24" font-size="3.90" fill="#fff" font-weight="700" text-anchor="middle" textLength="7.40" lengthAdjust="spacingAndGlyphs" transform="rotate(0.035 64.70 265.24)">M.E.</text>
<text x="32.30" y="281.18" font-size="7.20" fill="#111" font-weight="700" text-anchor="middle" textLength="11.50" lengthAdjust="spacingAndGlyphs" transform="rotate(0.035 32.30 281.18)">600</text>
<text x="65.20" y="281.11" font-size="7.00" fill="#111" font-weight="700" text-anchor="middle" textLength="25.00" lengthAdjust="spacingAndGlyphs" transform="rotate(0.035 65.20 281.11)">+/- 4.3%</text>
<rect x="292.00" y="261.30" width="239.00" height="0.60" fill="#ececec" />
<text x="260.70" y="276.44" font-size="6.50" fill="#2c4a90" textLength="118.90" lengthAdjust="spacingAndGlyphs" stroke="#2c4a90" stroke-width="0.28" transform="rotate(0.035 260.70 276.44)">Massive Caller Whatsapp: 81 1798 1079</text>
<text x="260.70" y="284.44" font-size="6.50" fill="#2c4a90" textLength="21.20" lengthAdjust="spacingAndGlyphs" stroke="#2c4a90" stroke-width="0.28" transform="rotate(0.035 260.70 284.44)">Correo:</text>
<text x="284.00" y="284.44" font-size="6.50" fill="#33539a" textLength="115.70" lengthAdjust="spacingAndGlyphs" stroke="#33539a" stroke-width="0.1" transform="rotate(0.035 284.00 284.44)">carlos.campos.riojas@massivecaller.com</text>
<text x="506.50" y="295.32" font-size="14.60" fill="#a0a0a0" text-anchor="end" textLength="39.50" lengthAdjust="spacingAndGlyphs" transform="rotate(0.035 506.50 295.32)">11/21</text>
<text x="517.50" y="197.10" font-size="4.40" fill="#555" textLength="91.40" lengthAdjust="spacingAndGlyphs" stroke="#555" stroke-width="0.08" transform="rotate(-90.035 517.50 197.10)">D.R., (C) MASSIVE CALLER S.A DE C.V., 2026</text>
<text x="523.20" y="250.00" font-size="4.40" fill="#555" textLength="198.00" lengthAdjust="spacingAndGlyphs" stroke="#555" stroke-width="0.08" transform="rotate(-90.035 523.20 250.00)">Se autoriza la reproducción al hacer referencia del autor, salvo aplique veda electoral al contenido.</text>
<text x="54.00" y="58.02" font-size="9.30" fill="#1a1a1a" textLength="421.25" lengthAdjust="spacingAndGlyphs" stroke="#1a1a1a" stroke-width="0.12" transform="rotate(0.035 54.00 58.02)">USTED SEÑALÓ QUE PIENSA VOTAR POR MOVIMIENTO CIUDADANO. DE LAS SIGUIENTES PERSONAS,</text>
<text x="51.24" y="69.66" font-size="9.20" fill="#0a0a0a" font-weight="700" textLength="427.48" lengthAdjust="spacingAndGlyphs" stroke="#0a0a0a" stroke-width="0.6" transform="rotate(0.035 51.24 69.66)">¿QUIÉN LE GUSTARÍA QUE FUERA EL CANDIDATO PARA ALCALDE DE MOVIMIENTO CIUDADANO?</text>
<text x="239.67" y="82.05" font-size="9.50" fill="#d8372b" font-weight="700" textLength="50.93" lengthAdjust="spacingAndGlyphs" stroke="#d8372b" stroke-width="0.42" transform="rotate(0.035 239.67 82.05)">TRACKING</text>
<text x="61.75" y="243.56" font-size="5.92" fill="#2b2b2b" text-anchor="middle" textLength="28.58" lengthAdjust="spacingAndGlyphs" stroke="#2b2b2b" stroke-width="0.15" transform="rotate(0.035 61.75 243.56)">03-OCT-25</text>
<text x="119.83" y="243.56" font-size="5.92" fill="#2b2b2b" text-anchor="middle" textLength="28.91" lengthAdjust="spacingAndGlyphs" stroke="#2b2b2b" stroke-width="0.15" transform="rotate(0.035 119.83 243.56)">03-NOV-25</text>
<text x="178.22" y="243.56" font-size="5.92" fill="#2b2b2b" text-anchor="middle" textLength="26.36" lengthAdjust="spacingAndGlyphs" stroke="#2b2b2b" stroke-width="0.15" transform="rotate(0.035 178.22 243.56)">03-DIC-25</text>
<text x="236.30" y="243.56" font-size="5.92" fill="#2b2b2b" text-anchor="middle" textLength="28.27" lengthAdjust="spacingAndGlyphs" stroke="#2b2b2b" stroke-width="0.15" transform="rotate(0.035 236.30 243.56)">03-ENE-26</text>
<text x="294.68" y="243.56" font-size="5.92" fill="#2b2b2b" text-anchor="middle" textLength="27.64" lengthAdjust="spacingAndGlyphs" stroke="#2b2b2b" stroke-width="0.15" transform="rotate(0.035 294.68 243.56)">03-FEB-26</text>
<text x="353.07" y="243.56" font-size="5.92" fill="#2b2b2b" text-anchor="middle" textLength="29.22" lengthAdjust="spacingAndGlyphs" stroke="#2b2b2b" stroke-width="0.15" transform="rotate(0.035 353.07 243.56)">03-MAR-26</text>
<text x="399.20" y="118.82" font-size="6.90" fill="#d9935f" font-weight="700" textLength="89.72" lengthAdjust="spacingAndGlyphs" stroke="#d9935f" stroke-width="0.12" transform="rotate(0.035 399.20 118.82)">32.9% PAUL ALFREDO ARCE</text>
<text x="399.20" y="128.97" font-size="6.90" fill="#d9935f" font-weight="700" textLength="38.28" lengthAdjust="spacingAndGlyphs" stroke="#d9935f" stroke-width="0.12" transform="rotate(0.035 399.20 128.97)">ONTIVEROS</text>
<text x="399.20" y="154.35" font-size="6.90" fill="#8c8c8c" textLength="39.71" lengthAdjust="spacingAndGlyphs" stroke="#8c8c8c" stroke-width="0.1" transform="rotate(0.035 399.20 154.35)">23.3% OTRO</text>
<text x="399.20" y="164.71" font-size="6.90" fill="#111" font-weight="700" textLength="72.06" lengthAdjust="spacingAndGlyphs" stroke="#111" stroke-width="0.12" transform="rotate(0.035 399.20 164.71)">19.2% AÚN NO DECIDE</text>
<text x="399.20" y="190.09" font-size="6.90" fill="#d9935f" font-weight="700" textLength="99.32" lengthAdjust="spacingAndGlyphs" stroke="#d9935f" stroke-width="0.12" transform="rotate(0.035 399.20 190.09)">15.1% PEDRO ARMENTÍA LÓPEZ</text>
<text x="399.20" y="200.65" font-size="6.90" fill="#d9935f" font-weight="700" textLength="80.94" lengthAdjust="spacingAndGlyphs" stroke="#d9935f" stroke-width="0.12" transform="rotate(0.035 399.20 200.65)">6.8% TANIA DOMÍNGUEZ</text>
<text x="399.20" y="211.00" font-size="6.90" fill="#d9935f" font-weight="700" textLength="38.69" lengthAdjust="spacingAndGlyphs" stroke="#d9935f" stroke-width="0.12" transform="rotate(0.035 399.20 211.00)">FERNÁNDEZ</text>
<text x="399.20" y="221.56" font-size="6.90" fill="#d9935f" font-weight="700" textLength="110.03" lengthAdjust="spacingAndGlyphs" stroke="#d9935f" stroke-width="0.12" transform="rotate(0.035 399.20 221.56)">2.7% ELEAZAR HERRERA VÁZQUEZ</text>
<rect x="512.30" y="96.04" width="4.90" height="109.95" rx="2.45" fill="rgba(224,224,224,0.86)"/>
</svg>
<div class="x" style="left:531px;top:0;width:526px;height:5px;background:#fff"></div>
<div class="x" style="left:531px;top:4.6px;width:526px;height:0.9px;background:#d6d6d6"></div>
<div class="x" style="left:586px;top:4.4px;width:471px;height:1.1px;background:#bdbdbd"></div>
<div class="t" style="left:1001.5px;top:-10.9px;font-size:15.6px;color:#9a9a9a;will-change:transform;">6/21</div>
<div class="x" style="left:587px;top:311.9px;width:470px;height:0.9px;background:#dadada"></div>
<div class="x" style="left:56px;top:618.5px;width:475px;height:0.9px;background:#dadada"></div>
<div class="x" style="left:587px;top:619px;width:470px;height:0.9px;background:#dadada"></div>
<div class="x" style="left:537px;top:1245px;width:520px;height:2px;background:#fff"></div>
<div class="x" style="left:592px;top:1245px;width:299px;height:2px;background:linear-gradient(90deg,#a5282c,#7c2424)"></div>
<div class="x" style="left:889px;top:1245px;width:168px;height:2px;background:#212e5e"></div>
</body></html>
